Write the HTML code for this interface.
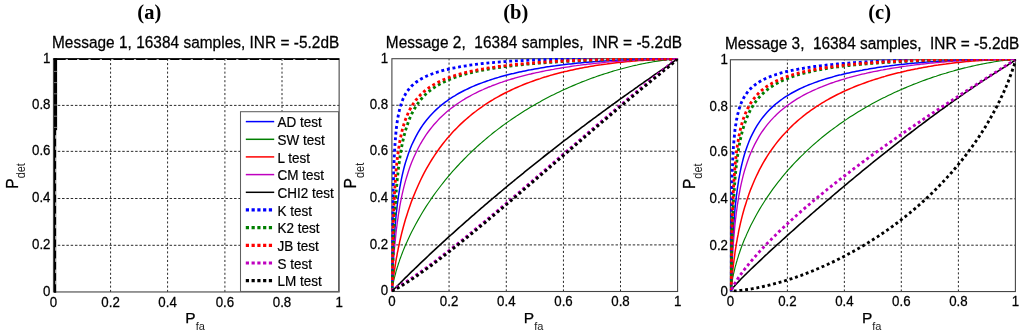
<!DOCTYPE html>
<html><head><meta charset="utf-8"><title>ROC curves</title>
<style>
html,body{margin:0;padding:0;background:#fff;}
svg{display:block}
text{font-family:"Liberation Sans",sans-serif;fill:#000;white-space:pre;stroke:#000;stroke-width:0.25px}
.tk{font-size:13.3px}
.tt{font-size:15.4px}
.lb{font-size:15.5px}
.sb{font-size:11px;stroke-width:0;fill:#222}
.lg{font-size:13.5px;stroke-width:0.2px}
.hd{font-family:"Liberation Serif",serif;font-weight:bold;font-size:20.5px;stroke-width:0}
</style></head><body>
<svg width="1024" height="336" viewBox="0 0 1024 336">
<rect width="1024" height="336" fill="#fff"/>

<g>
<text class="hd" x="149.3" y="18.5" text-anchor="middle">(a)</text>
<text class="tt" transform="translate(52.0 47.9) scale(1 1.03)" textLength="287.3" lengthAdjust="spacing" xml:space="preserve">Message 1, 16384 samples, INR = -5.2dB</text>
<line x1="110.58" y1="291.96" x2="110.58" y2="58.76" stroke="#2b2b2b" stroke-width="1" stroke-dasharray="2.1 2.18"/>
<line x1="167.58" y1="291.96" x2="167.58" y2="58.76" stroke="#2b2b2b" stroke-width="1" stroke-dasharray="2.1 2.18"/>
<line x1="224.90" y1="291.96" x2="224.90" y2="58.76" stroke="#2b2b2b" stroke-width="1" stroke-dasharray="2.1 2.18"/>
<line x1="282.00" y1="291.96" x2="282.00" y2="58.76" stroke="#2b2b2b" stroke-width="1" stroke-dasharray="2.1 2.18"/>
<line x1="53.46" y1="245.30" x2="339.13" y2="245.30" stroke="#2b2b2b" stroke-width="1" stroke-dasharray="2.5 1.8"/>
<line x1="53.46" y1="198.50" x2="339.13" y2="198.50" stroke="#2b2b2b" stroke-width="1" stroke-dasharray="2.5 1.8"/>
<line x1="53.46" y1="151.35" x2="339.13" y2="151.35" stroke="#2b2b2b" stroke-width="1" stroke-dasharray="2.5 1.8"/>
<line x1="53.46" y1="105.40" x2="339.13" y2="105.40" stroke="#2b2b2b" stroke-width="1" stroke-dasharray="2.5 1.8"/>
<rect x="53.46" y="58.76" width="285.67" height="233.20" fill="none" stroke="#454545" stroke-width="1.1"/>
<rect x="54.0" y="58.16" width="3.1" height="72" fill="#000"/>
<rect x="54.0" y="129.76" width="2.2" height="163.00" fill="#000"/>
<line x1="53.46" y1="59.11" x2="339.13" y2="59.11" stroke="#000" stroke-width="1.7"/>
<rect x="54.0" y="70.9" width="3.1" height="1" fill="#777"/>
<rect x="54.0" y="82.1" width="3.1" height="1" fill="#777"/>
<rect x="54.0" y="93.3" width="3.1" height="1" fill="#777"/>
<rect x="54.0" y="104.5" width="3.1" height="1" fill="#777"/>
<rect x="54.0" y="115.7" width="3.1" height="1" fill="#777"/>
<rect x="54.0" y="126.9" width="3.1" height="1" fill="#777"/>
<rect x="55.4" y="135.2" width="0.9" height="3.5" fill="#fff"/>
<rect x="55.4" y="146.4" width="0.9" height="3.5" fill="#fff"/>
<rect x="55.4" y="157.6" width="0.9" height="3.5" fill="#fff"/>
<rect x="55.4" y="168.8" width="0.9" height="3.5" fill="#fff"/>
<rect x="55.4" y="180.0" width="0.9" height="3.5" fill="#fff"/>
<rect x="55.4" y="191.2" width="0.9" height="3.5" fill="#fff"/>
<rect x="55.4" y="202.4" width="0.9" height="3.5" fill="#fff"/>
<rect x="55.4" y="213.6" width="0.9" height="3.5" fill="#fff"/>
<rect x="55.4" y="224.8" width="0.9" height="3.5" fill="#fff"/>
<rect x="55.4" y="236.0" width="0.9" height="3.5" fill="#fff"/>
<rect x="55.4" y="247.2" width="0.9" height="3.5" fill="#fff"/>
<rect x="55.4" y="258.4" width="0.9" height="3.5" fill="#fff"/>
<rect x="55.4" y="269.6" width="0.9" height="3.5" fill="#fff"/>
<rect x="55.4" y="280.8" width="0.9" height="3.5" fill="#fff"/>
<rect x="65.7" y="59.21" width="2.2" height="0.85" fill="#fff" fill-opacity="0.9"/>
<rect x="77.0" y="59.21" width="2.2" height="0.85" fill="#fff" fill-opacity="0.9"/>
<rect x="88.4" y="59.21" width="2.2" height="0.85" fill="#fff" fill-opacity="0.9"/>
<rect x="99.8" y="59.21" width="2.2" height="0.85" fill="#fff" fill-opacity="0.9"/>
<rect x="111.2" y="59.21" width="2.2" height="0.85" fill="#fff" fill-opacity="0.9"/>
<rect x="122.5" y="59.21" width="2.2" height="0.85" fill="#fff" fill-opacity="0.9"/>
<rect x="133.9" y="59.21" width="2.2" height="0.85" fill="#fff" fill-opacity="0.9"/>
<rect x="145.3" y="59.21" width="2.2" height="0.85" fill="#fff" fill-opacity="0.9"/>
<rect x="156.6" y="59.21" width="2.2" height="0.85" fill="#fff" fill-opacity="0.9"/>
<rect x="168.0" y="59.21" width="2.2" height="0.85" fill="#fff" fill-opacity="0.9"/>
<rect x="179.4" y="59.21" width="2.2" height="0.85" fill="#fff" fill-opacity="0.9"/>
<rect x="190.7" y="59.21" width="2.2" height="0.85" fill="#fff" fill-opacity="0.9"/>
<rect x="202.1" y="59.21" width="2.2" height="0.85" fill="#fff" fill-opacity="0.9"/>
<rect x="213.5" y="59.21" width="2.2" height="0.85" fill="#fff" fill-opacity="0.9"/>
<rect x="224.8" y="59.21" width="2.2" height="0.85" fill="#fff" fill-opacity="0.9"/>
<rect x="236.2" y="59.21" width="2.2" height="0.85" fill="#fff" fill-opacity="0.9"/>
<rect x="247.6" y="59.21" width="2.2" height="0.85" fill="#fff" fill-opacity="0.9"/>
<rect x="259.0" y="59.21" width="2.2" height="0.85" fill="#fff" fill-opacity="0.9"/>
<rect x="270.3" y="59.21" width="2.2" height="0.85" fill="#fff" fill-opacity="0.9"/>
<rect x="281.7" y="59.21" width="2.2" height="0.85" fill="#fff" fill-opacity="0.9"/>
<rect x="293.1" y="59.21" width="2.2" height="0.85" fill="#fff" fill-opacity="0.9"/>
<rect x="304.4" y="59.21" width="2.2" height="0.85" fill="#fff" fill-opacity="0.9"/>
<rect x="315.8" y="59.21" width="2.2" height="0.85" fill="#fff" fill-opacity="0.9"/>
<rect x="327.2" y="59.21" width="2.2" height="0.85" fill="#fff" fill-opacity="0.9"/>
<text class="tk" transform="translate(53.5 306.7) scale(1 1.085)" text-anchor="middle">0</text>
<text class="tk" transform="translate(50.5 295.9) scale(1 1.085)" text-anchor="end">0</text>
<text class="tk" transform="translate(110.6 306.7) scale(1 1.085)" text-anchor="middle">0.2</text>
<text class="tk" transform="translate(50.5 249.2) scale(1 1.085)" text-anchor="end">0.2</text>
<text class="tk" transform="translate(167.6 306.7) scale(1 1.085)" text-anchor="middle">0.4</text>
<text class="tk" transform="translate(50.5 202.4) scale(1 1.085)" text-anchor="end">0.4</text>
<text class="tk" transform="translate(224.9 306.7) scale(1 1.085)" text-anchor="middle">0.6</text>
<text class="tk" transform="translate(50.5 155.2) scale(1 1.085)" text-anchor="end">0.6</text>
<text class="tk" transform="translate(282.0 306.7) scale(1 1.085)" text-anchor="middle">0.8</text>
<text class="tk" transform="translate(50.5 109.3) scale(1 1.085)" text-anchor="end">0.8</text>
<text class="tk" transform="translate(339.1 306.7) scale(1 1.085)" text-anchor="middle">1</text>
<text class="tk" transform="translate(50.5 62.7) scale(1 1.085)" text-anchor="end">1</text>
<text class="lb" transform="translate(185.3 323.0)">P<tspan class="sb" dy="7.4">fa</tspan></text>
<text class="lb" transform="translate(17.9 188.7) rotate(-90) scale(1 1.12)">P<tspan class="sb" dy="6.5">det</tspan></text>
<rect x="240.5" y="111.7" width="98.03" height="179.76" fill="#fff" stroke="#606060" stroke-width="1.05"/>
<line x1="245.8" y1="121.6" x2="274.2" y2="121.6" stroke="#0000ff" stroke-width="1.5"/>
<text class="lg" transform="translate(277.6 127.2) scale(1 1.085)">AD test</text>
<line x1="245.8" y1="139.3" x2="274.2" y2="139.3" stroke="#007f00" stroke-width="1.5"/>
<text class="lg" transform="translate(277.6 144.9) scale(1 1.085)">SW test</text>
<line x1="245.8" y1="156.9" x2="274.2" y2="156.9" stroke="#ff0000" stroke-width="1.5"/>
<text class="lg" transform="translate(277.6 162.5) scale(1 1.085)">L test</text>
<line x1="245.8" y1="174.6" x2="274.2" y2="174.6" stroke="#bf00bf" stroke-width="1.5"/>
<text class="lg" transform="translate(277.6 180.2) scale(1 1.085)">CM test</text>
<line x1="245.8" y1="192.3" x2="274.2" y2="192.3" stroke="#000000" stroke-width="1.5"/>
<text class="lg" transform="translate(277.6 197.9) scale(1 1.085)">CHI2 test</text>
<line x1="245.8" y1="209.9" x2="274.2" y2="209.9" stroke="#0000ff" stroke-width="3.2" stroke-dasharray="3.2 2.56"/>
<text class="lg" transform="translate(277.6 215.5) scale(1 1.085)">K test</text>
<line x1="245.8" y1="227.6" x2="274.2" y2="227.6" stroke="#007f00" stroke-width="3.2" stroke-dasharray="3.2 2.56"/>
<text class="lg" transform="translate(277.6 233.2) scale(1 1.085)">K2 test</text>
<line x1="245.8" y1="245.3" x2="274.2" y2="245.3" stroke="#ff0000" stroke-width="3.2" stroke-dasharray="3.2 2.56"/>
<text class="lg" transform="translate(277.6 250.9) scale(1 1.085)">JB test</text>
<line x1="245.8" y1="263.0" x2="274.2" y2="263.0" stroke="#bf00bf" stroke-width="3.2" stroke-dasharray="3.2 2.56"/>
<text class="lg" transform="translate(277.6 268.6) scale(1 1.085)">S test</text>
<line x1="245.8" y1="280.6" x2="274.2" y2="280.6" stroke="#000000" stroke-width="3.2" stroke-dasharray="3.2 2.56"/>
<text class="lg" transform="translate(277.6 286.2) scale(1 1.085)">LM test</text>
</g>
<g>
<text class="hd" x="515.7" y="18.5" text-anchor="middle">(b)</text>
<text class="tt" transform="translate(385.8 47.8) scale(1 1.03)" textLength="296.2" lengthAdjust="spacing" xml:space="preserve">Message 2,  16384 samples,  INR = -5.2dB</text>
<line x1="449.06" y1="291.50" x2="449.06" y2="58.70" stroke="#2b2b2b" stroke-width="1" stroke-dasharray="2.1 2.18"/>
<line x1="506.30" y1="291.50" x2="506.30" y2="58.70" stroke="#2b2b2b" stroke-width="1" stroke-dasharray="2.1 2.18"/>
<line x1="563.45" y1="291.50" x2="563.45" y2="58.70" stroke="#2b2b2b" stroke-width="1" stroke-dasharray="2.1 2.18"/>
<line x1="620.50" y1="291.50" x2="620.50" y2="58.70" stroke="#2b2b2b" stroke-width="1" stroke-dasharray="2.1 2.18"/>
<line x1="391.90" y1="244.90" x2="677.60" y2="244.90" stroke="#2b2b2b" stroke-width="1" stroke-dasharray="2.5 1.8"/>
<line x1="391.90" y1="198.35" x2="677.60" y2="198.35" stroke="#2b2b2b" stroke-width="1" stroke-dasharray="2.5 1.8"/>
<line x1="391.90" y1="151.20" x2="677.60" y2="151.20" stroke="#2b2b2b" stroke-width="1" stroke-dasharray="2.5 1.8"/>
<line x1="391.90" y1="105.24" x2="677.60" y2="105.24" stroke="#2b2b2b" stroke-width="1" stroke-dasharray="2.5 1.8"/>
<rect x="391.90" y="58.70" width="285.70" height="232.80" fill="none" stroke="#454545" stroke-width="1.1"/>
<clipPath id="cp1"><rect x="391.20" y="58.00" width="287.10" height="234.20"/></clipPath>
<g clip-path="url(#cp1)" fill="none">
<path d="M392.0 291.0L392.0 290.6L392.1 290.1L392.1 289.6L392.1 289.2L392.1 288.7L392.1 288.3L392.1 287.6L392.1 287.1L392.2 286.7L392.2 286.1L392.2 285.5L392.2 284.9L392.2 284.2L392.2 283.4L392.3 282.5L392.3 281.6L392.3 280.6L392.4 279.6L392.4 278.4L392.4 277.1L392.5 275.8L392.5 274.4L392.6 272.9L392.6 271.2L392.7 269.5L392.8 267.7L392.8 265.7L392.9 263.7L393.0 261.5L393.1 259.2L393.2 256.9L393.3 254.4L393.5 251.8L393.6 249.0L393.7 246.2L393.9 243.3L394.1 240.2L394.3 237.1L394.5 233.8L394.8 230.5L395.1 227.0L395.4 223.5L395.7 219.8L396.0 216.1L396.4 212.3L396.9 208.4L397.3 204.5L397.9 200.5L398.4 196.4L399.1 192.3L399.7 188.1L400.5 183.9L401.3 179.7L402.2 175.4L403.2 171.1L404.3 166.8L405.5 162.5L406.9 158.2L408.3 153.9L409.9 149.6L411.6 145.3L413.6 141.1L415.7 136.8L418.0 132.6L420.5 128.5L422.4 125.6L424.3 123.0L426.2 120.5L428.1 118.2L430.0 116.0L431.9 113.9L433.8 112.0L435.7 110.1L437.6 108.4L439.5 106.7L441.4 105.1L443.3 103.6L445.2 102.1L447.1 100.8L449.0 99.4L450.9 98.2L452.8 96.9L454.7 95.8L456.6 94.6L458.5 93.5L460.4 92.5L462.3 91.5L464.2 90.5L466.1 89.6L468.0 88.7L469.9 87.8L471.8 86.9L473.7 86.1L475.6 85.3L477.5 84.5L479.4 83.8L481.3 83.1L483.2 82.4L485.1 81.7L487.0 81.0L488.9 80.4L490.8 79.7L492.7 79.1L494.6 78.5L496.5 77.9L498.4 77.4L500.3 76.8L502.2 76.3L504.1 75.8L506.0 75.3L507.9 74.8L509.8 74.3L511.7 73.8L513.6 73.4L515.5 72.9L517.4 72.5L519.3 72.1L521.2 71.7L523.1 71.3L525.0 70.9L526.9 70.5L528.8 70.1L530.7 69.8L532.6 69.4L534.5 69.0L536.4 68.7L538.3 68.4L540.2 68.1L542.1 67.7L544.0 67.4L545.9 67.1L547.8 66.8L549.7 66.6L551.6 66.3L553.5 66.0L555.4 65.8L557.3 65.5L559.2 65.2L561.1 65.0L563.0 64.8L564.9 64.5L566.8 64.3L568.7 64.1L570.6 63.9L572.5 63.7L574.4 63.5L576.3 63.3L578.2 63.1L580.1 62.9L582.0 62.7L583.9 62.5L585.8 62.3L587.7 62.2L589.6 62.0L591.5 61.9L593.4 61.7L595.3 61.6L597.2 61.4L599.1 61.3L601.0 61.1L602.9 61.0L604.8 60.9L606.7 60.8L608.6 60.7L610.5 60.5L612.4 60.4L614.3 60.3L616.2 60.2L618.1 60.1L620.0 60.1L621.9 60.0L623.8 59.9L625.7 59.8L627.6 59.7L629.5 59.7L631.4 59.6L633.3 59.5L635.2 59.5L637.1 59.4L639.0 59.4L640.9 59.3L642.8 59.3L644.7 59.2L646.6 59.2L648.5 59.2L651.0 59.1L653.3 59.1L655.4 59.1L657.4 59.1L659.1 59.0L660.7 59.0L662.1 59.0L663.5 59.0L664.7 59.0L665.8 59.0L666.8 59.0L667.7 59.0L668.5 59.0L669.3 59.0L669.9 59.0L670.6 59.0L671.1 59.0L671.7 59.0L672.1 59.0L672.6 59.0L673.0 59.0L673.6 59.0L674.2 59.0L674.7 59.0L675.1 59.0L675.5 59.0L675.9 59.0L676.3 59.0L676.7 59.0L677.0 59.0" stroke="#0000ff" stroke-width="1.5"/>
<path d="M392.0 291.0L392.0 290.6L392.1 290.3L392.1 289.9L392.2 289.4L392.2 288.9L392.3 288.6L392.3 288.2L392.4 287.7L392.5 287.2L392.6 286.6L392.7 285.9L392.8 285.6L392.8 285.1L392.9 284.7L393.0 284.2L393.1 283.7L393.2 283.2L393.3 282.6L393.5 282.0L393.6 281.3L393.7 280.6L393.9 279.9L394.1 279.1L394.3 278.2L394.5 277.3L394.8 276.3L395.1 275.2L395.4 274.1L395.7 272.9L396.0 271.6L396.4 270.2L396.9 268.8L397.3 267.2L397.9 265.6L398.4 263.8L399.1 261.9L399.7 259.9L400.5 257.8L401.3 255.6L402.2 253.2L403.2 250.6L404.3 248.0L405.5 245.1L406.9 242.1L408.3 238.9L409.9 235.5L411.6 232.0L413.6 228.2L415.7 224.2L418.0 220.1L420.5 215.7L422.4 212.5L424.3 209.4L426.2 206.4L428.1 203.5L430.0 200.7L431.9 197.9L433.8 195.2L435.7 192.5L437.6 190.0L439.5 187.5L441.4 185.0L443.3 182.6L445.2 180.2L447.1 177.9L449.0 175.6L450.9 173.4L452.8 171.2L454.7 169.1L456.6 167.0L458.5 165.0L460.4 162.9L462.3 161.0L464.2 159.0L466.1 157.1L468.0 155.2L469.9 153.4L471.8 151.5L473.7 149.7L475.6 148.0L477.5 146.2L479.4 144.5L481.3 142.9L483.2 141.2L485.1 139.6L487.0 138.0L488.9 136.4L490.8 134.9L492.7 133.3L494.6 131.8L496.5 130.4L498.4 128.9L500.3 127.5L502.2 126.0L504.1 124.6L506.0 123.3L507.9 121.9L509.8 120.6L511.7 119.3L513.6 118.0L515.5 116.7L517.4 115.4L519.3 114.2L521.2 113.0L523.1 111.8L525.0 110.6L526.9 109.4L528.8 108.3L530.7 107.1L532.6 106.0L534.5 104.9L536.4 103.8L538.3 102.7L540.2 101.7L542.1 100.6L544.0 99.6L545.9 98.6L547.8 97.6L549.7 96.6L551.6 95.6L553.5 94.7L555.4 93.7L557.3 92.8L559.2 91.9L561.1 91.0L563.0 90.1L564.9 89.2L566.8 88.4L568.7 87.5L570.6 86.7L572.5 85.9L574.4 85.1L576.3 84.3L578.2 83.5L580.1 82.7L582.0 81.9L583.9 81.2L585.8 80.5L587.7 79.7L589.6 79.0L591.5 78.3L593.4 77.6L595.3 77.0L597.2 76.3L599.1 75.6L601.0 75.0L602.9 74.4L604.8 73.8L606.7 73.2L608.6 72.6L610.5 72.0L612.4 71.4L614.3 70.8L616.2 70.3L618.1 69.7L620.0 69.2L621.9 68.7L623.8 68.2L625.7 67.7L627.6 67.2L629.5 66.7L631.4 66.3L633.3 65.8L635.2 65.4L637.1 65.0L639.0 64.5L640.9 64.1L642.8 63.7L644.7 63.4L646.6 63.0L648.5 62.6L651.0 62.2L653.3 61.8L655.4 61.4L657.4 61.1L659.1 60.9L660.7 60.6L662.1 60.4L663.5 60.3L664.7 60.1L665.8 60.0L666.8 59.9L667.7 59.7L668.5 59.7L669.3 59.6L669.9 59.5L670.6 59.4L671.1 59.4L671.7 59.3L672.1 59.3L672.6 59.3L673.0 59.2L673.6 59.2L674.2 59.1L674.7 59.1L675.1 59.1L675.5 59.1L675.8 59.0L676.2 59.0L676.6 59.0L677.0 59.0L677.0 59.0" stroke="#007f00" stroke-width="1.15"/>
<path d="M392.0 291.0L392.0 290.6L392.1 290.3L392.1 289.9L392.2 289.5L392.2 289.0L392.2 288.5L392.3 288.0L392.4 287.4L392.4 286.7L392.5 286.3L392.5 285.8L392.6 285.4L392.6 284.8L392.7 284.3L392.8 283.7L392.8 283.0L392.9 282.3L393.0 281.5L393.1 280.7L393.2 279.8L393.3 278.8L393.5 277.8L393.6 276.7L393.7 275.5L393.9 274.2L394.1 272.9L394.3 271.4L394.5 269.9L394.8 268.2L395.1 266.4L395.4 264.5L395.7 262.5L396.0 260.4L396.4 258.2L396.9 255.8L397.3 253.2L397.9 250.6L398.4 247.7L399.1 244.8L399.7 241.6L400.5 238.3L401.3 234.9L402.2 231.2L403.2 227.5L404.3 223.5L405.5 219.3L406.9 215.0L408.3 210.6L409.9 205.9L411.6 201.1L413.6 196.1L415.7 191.0L418.0 185.7L420.5 180.2L422.4 176.4L424.3 172.7L426.2 169.2L428.1 165.8L430.0 162.6L431.9 159.5L433.8 156.6L435.7 153.7L437.6 151.0L439.5 148.3L441.4 145.8L443.3 143.3L445.2 140.9L447.1 138.6L449.0 136.4L450.9 134.2L452.8 132.1L454.7 130.1L456.6 128.2L458.5 126.3L460.4 124.4L462.3 122.6L464.2 120.9L466.1 119.2L468.0 117.6L469.9 116.0L471.8 114.4L473.7 112.9L475.6 111.5L477.5 110.0L479.4 108.6L481.3 107.3L483.2 106.0L485.1 104.7L487.0 103.4L488.9 102.2L490.8 101.0L492.7 99.9L494.6 98.7L496.5 97.7L498.4 96.6L500.3 95.5L502.2 94.5L504.1 93.5L506.0 92.5L507.9 91.6L509.8 90.7L511.7 89.8L513.6 88.9L515.5 88.0L517.4 87.2L519.3 86.4L521.2 85.6L523.1 84.8L525.0 84.0L526.9 83.3L528.8 82.6L530.7 81.9L532.6 81.2L534.5 80.5L536.4 79.8L538.3 79.2L540.2 78.6L542.1 77.9L544.0 77.3L545.9 76.8L547.8 76.2L549.7 75.6L551.6 75.1L553.5 74.5L555.4 74.0L557.3 73.5L559.2 73.0L561.1 72.5L563.0 72.1L564.9 71.6L566.8 71.2L568.7 70.7L570.6 70.3L572.5 69.9L574.4 69.5L576.3 69.1L578.2 68.7L580.1 68.3L582.0 67.9L583.9 67.6L585.8 67.2L587.7 66.9L589.6 66.6L591.5 66.2L593.4 65.9L595.3 65.6L597.2 65.3L599.1 65.0L601.0 64.8L602.9 64.5L604.8 64.2L606.7 64.0L608.6 63.7L610.5 63.5L612.4 63.2L614.3 63.0L616.2 62.8L618.1 62.6L620.0 62.4L621.9 62.2L623.8 62.0L625.7 61.8L627.6 61.6L629.5 61.4L631.4 61.3L633.3 61.1L635.2 60.9L637.1 60.8L639.0 60.6L640.9 60.5L642.8 60.4L644.7 60.2L646.6 60.1L648.5 60.0L651.0 59.9L653.3 59.7L655.4 59.6L657.4 59.5L659.1 59.5L660.7 59.4L662.1 59.4L663.5 59.3L664.7 59.3L665.8 59.2L666.8 59.2L667.7 59.2L668.5 59.1L669.3 59.1L669.9 59.1L670.6 59.1L671.1 59.1L671.7 59.1L672.1 59.1L672.6 59.1L673.0 59.0L673.6 59.0L674.2 59.0L674.7 59.0L675.1 59.0L675.5 59.0L675.9 59.0L676.3 59.0L676.7 59.0L677.0 59.0" stroke="#ff0000" stroke-width="1.5"/>
<path d="M392.0 291.0L392.0 290.6L392.1 290.3L392.1 289.8L392.1 289.2L392.1 288.8L392.2 288.1L392.2 287.4L392.2 287.0L392.2 286.5L392.2 286.0L392.3 285.4L392.3 284.8L392.3 284.1L392.4 283.4L392.4 282.6L392.4 281.7L392.5 280.8L392.5 279.8L392.6 278.7L392.6 277.6L392.7 276.3L392.8 275.0L392.8 273.6L392.9 272.1L393.0 270.4L393.1 268.7L393.2 266.9L393.3 265.0L393.5 262.9L393.6 260.8L393.7 258.5L393.9 256.2L394.1 253.7L394.3 251.1L394.5 248.3L394.8 245.5L395.1 242.5L395.4 239.4L395.7 236.2L396.0 232.9L396.4 229.5L396.9 226.0L397.3 222.3L397.9 218.6L398.4 214.7L399.1 210.8L399.7 206.8L400.5 202.6L401.3 198.4L402.2 194.1L403.2 189.8L404.3 185.3L405.5 180.9L406.9 176.3L408.3 171.8L409.9 167.1L411.6 162.5L413.6 157.8L415.7 153.2L418.0 148.5L420.5 143.8L422.4 140.6L424.3 137.6L426.2 134.7L428.1 132.0L430.0 129.5L431.9 127.1L433.8 124.8L435.7 122.7L437.6 120.6L439.5 118.6L441.4 116.8L443.3 115.0L445.2 113.3L447.1 111.6L449.0 110.0L450.9 108.5L452.8 107.1L454.7 105.7L456.6 104.3L458.5 103.0L460.4 101.7L462.3 100.5L464.2 99.4L466.1 98.2L468.0 97.1L469.9 96.1L471.8 95.0L473.7 94.0L475.6 93.1L477.5 92.1L479.4 91.2L481.3 90.3L483.2 89.5L485.1 88.6L487.0 87.8L488.9 87.0L490.8 86.3L492.7 85.5L494.6 84.8L496.5 84.1L498.4 83.4L500.3 82.7L502.2 82.1L504.1 81.4L506.0 80.8L507.9 80.2L509.8 79.6L511.7 79.0L513.6 78.5L515.5 77.9L517.4 77.4L519.3 76.9L521.2 76.4L523.1 75.9L525.0 75.4L526.9 74.9L528.8 74.4L530.7 74.0L532.6 73.5L534.5 73.1L536.4 72.7L538.3 72.3L540.2 71.9L542.1 71.5L544.0 71.1L545.9 70.7L547.8 70.3L549.7 70.0L551.6 69.6L553.5 69.3L555.4 68.9L557.3 68.6L559.2 68.3L561.1 68.0L563.0 67.7L564.9 67.4L566.8 67.1L568.7 66.8L570.6 66.5L572.5 66.2L574.4 65.9L576.3 65.7L578.2 65.4L580.1 65.2L582.0 64.9L583.9 64.7L585.8 64.5L587.7 64.2L589.6 64.0L591.5 63.8L593.4 63.6L595.3 63.4L597.2 63.2L599.1 63.0L601.0 62.8L602.9 62.6L604.8 62.4L606.7 62.2L608.6 62.1L610.5 61.9L612.4 61.7L614.3 61.6L616.2 61.4L618.1 61.3L620.0 61.2L621.9 61.0L623.8 60.9L625.7 60.8L627.6 60.6L629.5 60.5L631.4 60.4L633.3 60.3L635.2 60.2L637.1 60.1L639.0 60.0L640.9 59.9L642.8 59.8L644.7 59.7L646.6 59.6L648.5 59.6L651.0 59.5L653.3 59.4L655.4 59.3L657.4 59.3L659.1 59.2L660.7 59.2L662.1 59.1L663.5 59.1L664.7 59.1L665.8 59.1L666.8 59.1L667.7 59.1L668.5 59.0L669.3 59.0L669.9 59.0L670.6 59.0L671.1 59.0L671.7 59.0L672.1 59.0L672.6 59.0L673.0 59.0L673.6 59.0L674.2 59.0L674.7 59.0L675.1 59.0L675.5 59.0L675.9 59.0L676.3 59.0L676.7 59.0L677.0 59.0" stroke="#bf00bf" stroke-width="1.35"/>
<path d="M392.0 291.0L392.2 290.8L392.4 290.6L392.7 290.4L392.9 290.2L393.1 290.0L393.3 289.8L393.6 289.6L393.9 289.2L394.3 288.9L394.5 288.6L394.8 288.4L395.1 288.1L395.4 287.8L395.7 287.5L396.0 287.1L396.4 286.8L396.9 286.3L397.3 285.9L397.9 285.3L398.4 284.8L399.1 284.1L399.7 283.5L400.5 282.7L401.3 281.9L402.2 281.0L403.2 280.0L404.3 278.9L405.5 277.7L406.9 276.4L408.3 275.0L409.9 273.4L411.6 271.7L413.6 269.9L415.7 267.8L418.0 265.6L420.5 263.2L422.4 261.4L424.3 259.6L426.2 257.8L428.1 256.0L430.0 254.2L431.9 252.4L433.8 250.7L435.7 248.9L437.6 247.1L439.5 245.4L441.4 243.6L443.3 241.9L445.2 240.2L447.1 238.4L449.0 236.7L450.9 235.0L452.8 233.3L454.7 231.6L456.6 229.9L458.5 228.2L460.4 226.5L462.3 224.8L464.2 223.1L466.1 221.4L468.0 219.8L469.9 218.1L471.8 216.4L473.7 214.8L475.6 213.1L477.5 211.5L479.4 209.8L481.3 208.2L483.2 206.6L485.1 204.9L487.0 203.3L488.9 201.7L490.8 200.1L492.7 198.5L494.6 196.9L496.5 195.3L498.4 193.7L500.3 192.1L502.2 190.5L504.1 188.9L506.0 187.3L507.9 185.7L509.8 184.2L511.7 182.6L513.6 181.0L515.5 179.5L517.4 177.9L519.3 176.4L521.2 174.8L523.1 173.3L525.0 171.7L526.9 170.2L528.8 168.7L530.7 167.1L532.6 165.6L534.5 164.1L536.4 162.6L538.3 161.1L540.2 159.6L542.1 158.0L544.0 156.5L545.9 155.0L547.8 153.5L549.7 152.1L551.6 150.6L553.5 149.1L555.4 147.6L557.3 146.1L559.2 144.6L561.1 143.2L563.0 141.7L564.9 140.2L566.8 138.8L568.7 137.3L570.6 135.9L572.5 134.4L574.4 133.0L576.3 131.5L578.2 130.1L580.1 128.7L582.0 127.2L583.9 125.8L585.8 124.4L587.7 122.9L589.6 121.5L591.5 120.1L593.4 118.7L595.3 117.3L597.2 115.9L599.1 114.5L601.0 113.1L602.9 111.7L604.8 110.3L606.7 108.9L608.6 107.5L610.5 106.1L612.4 104.7L614.3 103.4L616.2 102.0L618.1 100.6L620.0 99.2L621.9 97.9L623.8 96.5L625.7 95.2L627.6 93.8L629.5 92.4L631.4 91.1L633.3 89.8L635.2 88.4L637.1 87.1L639.0 85.7L640.9 84.4L642.8 83.1L644.7 81.7L646.6 80.4L648.5 79.1L651.0 77.3L653.3 75.7L655.4 74.2L657.4 72.9L659.1 71.7L660.7 70.6L662.1 69.6L663.5 68.7L664.7 67.9L665.8 67.1L666.8 66.4L667.7 65.8L668.5 65.2L669.3 64.7L669.9 64.2L670.6 63.7L671.1 63.3L671.7 63.0L672.1 62.6L672.6 62.3L673.0 62.1L673.3 61.8L673.6 61.6L673.9 61.4L674.2 61.2L674.5 61.0L674.7 60.8L675.1 60.5L675.4 60.3L675.7 60.1L675.9 59.9L676.2 59.7L676.4 59.5L676.6 59.3L676.9 59.1L677.0 59.0" stroke="#000000" stroke-width="1.6"/>
<path d="M392.0 291.0L392.0 290.6L392.0 290.1L392.0 289.5L392.1 289.1L392.1 288.7L392.1 288.2L392.1 287.6L392.1 286.8L392.1 286.0L392.1 285.0L392.1 283.9L392.1 282.6L392.1 281.2L392.1 279.6L392.1 277.8L392.2 275.8L392.2 273.7L392.2 271.3L392.2 268.7L392.2 265.9L392.2 262.9L392.3 259.7L392.3 256.3L392.3 252.7L392.4 248.9L392.4 245.0L392.4 240.8L392.5 236.6L392.5 232.1L392.6 227.6L392.6 223.0L392.7 218.2L392.8 213.4L392.8 208.5L392.9 203.6L393.0 198.7L393.1 193.8L393.2 188.9L393.3 184.0L393.5 179.1L393.6 174.3L393.7 169.6L393.9 165.0L394.1 160.4L394.3 155.9L394.5 151.6L394.8 147.3L395.1 143.2L395.4 139.2L395.7 135.3L396.0 131.6L396.4 127.9L396.9 124.4L397.3 121.1L397.9 117.8L398.4 114.7L399.1 111.7L399.7 108.9L400.5 106.1L401.3 103.5L402.2 101.0L403.2 98.5L404.3 96.2L405.5 94.0L406.9 91.9L408.3 89.9L409.9 87.9L411.6 86.0L413.6 84.2L415.7 82.5L418.0 80.9L420.5 79.3L422.4 78.2L424.3 77.2L426.2 76.3L428.1 75.5L430.0 74.7L431.9 74.0L433.8 73.3L435.7 72.6L437.6 72.0L439.5 71.5L441.4 70.9L443.3 70.4L445.2 69.9L447.1 69.5L449.0 69.0L450.9 68.6L452.8 68.2L454.7 67.8L456.6 67.4L458.5 67.1L460.4 66.7L462.3 66.4L464.2 66.1L466.1 65.8L468.0 65.5L469.9 65.2L471.8 64.9L473.7 64.7L475.6 64.4L477.5 64.2L479.4 64.0L481.3 63.7L483.2 63.5L485.1 63.3L487.0 63.1L488.9 62.9L490.8 62.7L492.7 62.6L494.6 62.4L496.5 62.2L498.4 62.1L500.3 61.9L502.2 61.8L504.1 61.6L506.0 61.5L507.9 61.3L509.8 61.2L511.7 61.1L513.6 61.0L515.5 60.9L517.4 60.8L519.3 60.7L521.2 60.6L523.1 60.5L525.0 60.4L526.9 60.3L528.8 60.2L530.7 60.1L532.6 60.1L534.5 60.0L536.4 59.9L538.3 59.9L540.2 59.8L542.1 59.7L544.0 59.7L545.9 59.6L547.8 59.6L549.7 59.5L551.6 59.5L553.5 59.5L555.4 59.4L557.3 59.4L559.2 59.3L561.1 59.3L563.0 59.3L564.9 59.3L566.8 59.2L568.7 59.2L570.6 59.2L572.5 59.2L574.4 59.1L576.3 59.1L578.2 59.1L580.1 59.1L582.0 59.1L583.9 59.1L585.8 59.1L587.7 59.1L589.6 59.1L591.5 59.0L593.4 59.0L595.3 59.0L597.2 59.0L599.1 59.0L601.0 59.0L602.9 59.0L604.8 59.0L606.7 59.0L608.6 59.0L610.5 59.0L612.4 59.0L614.3 59.0L616.2 59.0L618.1 59.0L620.0 59.0L621.9 59.0L623.8 59.0L625.7 59.0L627.6 59.0L629.5 59.0L631.4 59.0L633.3 59.0L635.2 59.0L637.1 59.0L639.0 59.0L640.9 59.0L642.8 59.0L644.7 59.0L646.6 59.0L648.5 59.0L651.0 59.0L653.3 59.0L655.4 59.0L657.4 59.0L659.1 59.0L660.7 59.0L662.1 59.0L663.5 59.0L664.7 59.0L665.8 59.0L666.8 59.0L667.7 59.0L668.5 59.0L669.3 59.0L669.9 59.0L670.6 59.0L671.1 59.0L671.7 59.0L672.1 59.0L672.6 59.0L673.0 59.0L673.6 59.0L674.2 59.0L674.7 59.0L675.1 59.0L675.5 59.0L675.9 59.0L676.3 59.0L676.7 59.0L677.0 59.0" stroke="#0000ff" stroke-width="2.85" stroke-dasharray="2.9 2.82" stroke-dashoffset="3.58"/>
<path d="M392.0 291.0L392.1 290.7L392.1 290.2L392.1 289.8L392.1 289.3L392.2 288.9L392.2 288.5L392.2 288.0L392.2 287.5L392.2 286.8L392.2 286.1L392.3 285.3L392.3 284.3L392.3 283.3L392.4 282.1L392.4 280.8L392.4 279.3L392.5 277.7L392.5 276.0L392.6 274.0L392.6 271.9L392.7 269.6L392.8 267.1L392.8 264.5L392.9 261.6L393.0 258.6L393.1 255.4L393.2 251.9L393.3 248.4L393.5 244.6L393.6 240.6L393.7 236.5L393.9 232.3L394.1 227.9L394.3 223.3L394.5 218.7L394.8 213.9L395.1 209.0L395.4 204.1L395.7 199.1L396.0 194.0L396.4 188.9L396.9 183.8L397.3 178.7L397.9 173.6L398.4 168.5L399.1 163.5L399.7 158.5L400.5 153.6L401.3 148.8L402.2 144.1L403.2 139.4L404.3 134.9L405.5 130.5L406.9 126.2L408.3 122.0L409.9 118.0L411.6 114.1L413.6 110.3L415.7 106.7L418.0 103.2L420.5 99.9L422.4 97.7L424.3 95.7L426.2 93.8L428.1 92.1L430.0 90.6L431.9 89.1L433.8 87.8L435.7 86.5L437.6 85.4L439.5 84.3L441.4 83.2L443.3 82.3L445.2 81.4L447.1 80.5L449.0 79.7L450.9 78.9L452.8 78.2L454.7 77.5L456.6 76.8L458.5 76.2L460.4 75.6L462.3 75.0L464.2 74.5L466.1 73.9L468.0 73.4L469.9 72.9L471.8 72.5L473.7 72.0L475.6 71.6L477.5 71.2L479.4 70.8L481.3 70.4L483.2 70.1L485.1 69.7L487.0 69.4L488.9 69.0L490.8 68.7L492.7 68.4L494.6 68.1L496.5 67.8L498.4 67.5L500.3 67.3L502.2 67.0L504.1 66.7L506.0 66.5L507.9 66.3L509.8 66.0L511.7 65.8L513.6 65.6L515.5 65.4L517.4 65.2L519.3 65.0L521.2 64.8L523.1 64.6L525.0 64.4L526.9 64.2L528.8 64.0L530.7 63.9L532.6 63.7L534.5 63.5L536.4 63.4L538.3 63.2L540.2 63.1L542.1 62.9L544.0 62.8L545.9 62.7L547.8 62.5L549.7 62.4L551.6 62.3L553.5 62.1L555.4 62.0L557.3 61.9L559.2 61.8L561.1 61.7L563.0 61.6L564.9 61.5L566.8 61.4L568.7 61.3L570.6 61.2L572.5 61.1L574.4 61.0L576.3 60.9L578.2 60.8L580.1 60.7L582.0 60.6L583.9 60.6L585.8 60.5L587.7 60.4L589.6 60.3L591.5 60.3L593.4 60.2L595.3 60.1L597.2 60.1L599.1 60.0L601.0 60.0L602.9 59.9L604.8 59.8L606.7 59.8L608.6 59.7L610.5 59.7L612.4 59.6L614.3 59.6L616.2 59.5L618.1 59.5L620.0 59.5L621.9 59.4L623.8 59.4L625.7 59.4L627.6 59.3L629.5 59.3L631.4 59.3L633.3 59.2L635.2 59.2L637.1 59.2L639.0 59.2L640.9 59.1L642.8 59.1L644.7 59.1L646.6 59.1L648.5 59.1L651.0 59.1L653.3 59.0L655.4 59.0L657.4 59.0L659.1 59.0L660.7 59.0L662.1 59.0L663.5 59.0L664.7 59.0L665.8 59.0L666.8 59.0L667.7 59.0L668.5 59.0L669.3 59.0L669.9 59.0L670.6 59.0L671.1 59.0L671.7 59.0L672.1 59.0L672.6 59.0L673.0 59.0L673.6 59.0L674.2 59.0L674.7 59.0L675.1 59.0L675.5 59.0L675.9 59.0L676.3 59.0L676.7 59.0L677.0 59.0" stroke="#007f00" stroke-width="2.85" stroke-dasharray="2.9 2.82" stroke-dashoffset="4.30"/>
<path d="M392.0 291.0L392.0 290.6L392.0 290.2L392.0 289.7L392.1 289.2L392.1 288.5L392.1 288.1L392.1 287.7L392.1 287.2L392.1 286.6L392.1 285.9L392.1 285.2L392.1 284.4L392.1 283.5L392.1 282.5L392.2 281.4L392.2 280.2L392.2 278.9L392.2 277.5L392.2 276.0L392.2 274.4L392.3 272.6L392.3 270.7L392.3 268.6L392.4 266.5L392.4 264.1L392.4 261.7L392.5 259.1L392.5 256.4L392.6 253.5L392.6 250.5L392.7 247.4L392.8 244.2L392.8 240.8L392.9 237.3L393.0 233.7L393.1 230.0L393.2 226.2L393.3 222.2L393.5 218.3L393.6 214.2L393.7 210.0L393.9 205.8L394.1 201.6L394.3 197.3L394.5 193.0L394.8 188.7L395.1 184.3L395.4 179.9L395.7 175.6L396.0 171.2L396.4 166.9L396.9 162.6L397.3 158.4L397.9 154.2L398.4 150.0L399.1 146.0L399.7 141.9L400.5 138.0L401.3 134.1L402.2 130.3L403.2 126.6L404.3 123.0L405.5 119.5L406.9 116.0L408.3 112.7L409.9 109.5L411.6 106.3L413.6 103.3L415.7 100.3L418.0 97.5L420.5 94.8L422.4 93.0L424.3 91.3L426.2 89.7L428.1 88.3L430.0 87.0L431.9 85.8L433.8 84.6L435.7 83.5L437.6 82.5L439.5 81.6L441.4 80.7L443.3 79.8L445.2 79.0L447.1 78.3L449.0 77.6L450.9 76.9L452.8 76.2L454.7 75.6L456.6 75.0L458.5 74.5L460.4 73.9L462.3 73.4L464.2 72.9L466.1 72.4L468.0 72.0L469.9 71.5L471.8 71.1L473.7 70.7L475.6 70.3L477.5 69.9L479.4 69.6L481.3 69.2L483.2 68.9L485.1 68.5L487.0 68.2L488.9 67.9L490.8 67.6L492.7 67.3L494.6 67.1L496.5 66.8L498.4 66.5L500.3 66.3L502.2 66.0L504.1 65.8L506.0 65.6L507.9 65.3L509.8 65.1L511.7 64.9L513.6 64.7L515.5 64.5L517.4 64.3L519.3 64.1L521.2 63.9L523.1 63.8L525.0 63.6L526.9 63.4L528.8 63.3L530.7 63.1L532.6 63.0L534.5 62.8L536.4 62.7L538.3 62.5L540.2 62.4L542.1 62.3L544.0 62.1L545.9 62.0L547.8 61.9L549.7 61.8L551.6 61.6L553.5 61.5L555.4 61.4L557.3 61.3L559.2 61.2L561.1 61.1L563.0 61.0L564.9 60.9L566.8 60.8L568.7 60.7L570.6 60.7L572.5 60.6L574.4 60.5L576.3 60.4L578.2 60.4L580.1 60.3L582.0 60.2L583.9 60.1L585.8 60.1L587.7 60.0L589.6 60.0L591.5 59.9L593.4 59.8L595.3 59.8L597.2 59.7L599.1 59.7L601.0 59.6L602.9 59.6L604.8 59.6L606.7 59.5L608.6 59.5L610.5 59.4L612.4 59.4L614.3 59.4L616.2 59.3L618.1 59.3L620.0 59.3L621.9 59.3L623.8 59.2L625.7 59.2L627.6 59.2L629.5 59.2L631.4 59.1L633.3 59.1L635.2 59.1L637.1 59.1L639.0 59.1L640.9 59.1L642.8 59.1L644.7 59.0L646.6 59.0L648.5 59.0L651.0 59.0L653.3 59.0L655.4 59.0L657.4 59.0L659.1 59.0L660.7 59.0L662.1 59.0L663.5 59.0L664.7 59.0L665.8 59.0L666.8 59.0L667.7 59.0L668.5 59.0L669.3 59.0L669.9 59.0L670.6 59.0L671.1 59.0L671.7 59.0L672.1 59.0L672.6 59.0L673.0 59.0L673.6 59.0L674.2 59.0L674.7 59.0L675.1 59.0L675.5 59.0L675.9 59.0L676.3 59.0L676.7 59.0L677.0 59.0" stroke="#ff0000" stroke-width="2.85" stroke-dasharray="2.9 2.82" stroke-dashoffset="0.35"/>
<path d="M391.3 290.2L391.6 290.1L391.9 289.9L392.2 289.8L392.5 289.6L392.8 289.5L393.2 289.3L393.6 289.1L394.1 288.8L394.4 288.7L394.7 288.5L395.0 288.4L395.3 288.2L395.7 288.0L396.2 287.7L396.6 287.5L397.2 287.2L397.7 286.9L398.4 286.5L399.0 286.1L399.8 285.6L400.6 285.1L401.5 284.6L402.5 284.0L403.6 283.3L404.8 282.6L406.2 281.7L407.6 280.8L409.2 279.7L410.9 278.6L412.9 277.3L415.0 275.8L417.3 274.2L419.8 272.5L421.7 271.1L423.6 269.8L425.5 268.4L427.4 267.0L429.3 265.6L431.2 264.2L433.1 262.8L435.0 261.3L436.9 259.9L438.8 258.4L440.7 257.0L442.6 255.5L444.5 254.0L446.4 252.6L448.3 251.1L450.2 249.6L452.1 248.1L454.0 246.6L455.9 245.1L457.8 243.6L459.7 242.0L461.6 240.5L463.5 239.0L465.4 237.4L467.3 235.9L469.2 234.3L471.1 232.8L473.0 231.2L474.9 229.6L476.8 228.1L478.7 226.5L480.6 224.9L482.5 223.4L484.4 221.8L486.3 220.2L488.2 218.6L490.1 217.0L492.0 215.4L493.9 213.8L495.8 212.2L497.7 210.6L499.6 209.0L501.5 207.4L503.4 205.8L505.3 204.2L507.2 202.5L509.1 200.9L511.0 199.3L512.9 197.7L514.8 196.0L516.7 194.4L518.6 192.8L520.5 191.2L522.4 189.5L524.3 187.9L526.2 186.3L528.1 184.6L530.0 183.0L531.9 181.4L533.8 179.7L535.7 178.1L537.6 176.4L539.5 174.8L541.4 173.2L543.3 171.5L545.2 169.9L547.1 168.2L549.0 166.6L550.9 164.9L552.8 163.3L554.7 161.7L556.6 160.0L558.5 158.4L560.4 156.7L562.3 155.1L564.2 153.4L566.1 151.8L568.0 150.2L569.9 148.5L571.8 146.9L573.7 145.2L575.6 143.6L577.5 141.9L579.4 140.3L581.3 138.7L583.2 137.0L585.1 135.4L587.0 133.8L588.9 132.1L590.8 130.5L592.7 128.9L594.6 127.2L596.5 125.6L598.4 124.0L600.3 122.4L602.2 120.7L604.1 119.1L606.0 117.5L607.9 115.9L609.8 114.3L611.7 112.6L613.6 111.0L615.5 109.4L617.4 107.8L619.3 106.2L621.2 104.6L623.1 103.0L625.0 101.4L626.9 99.8L628.8 98.2L630.7 96.6L632.6 95.0L634.5 93.5L636.4 91.9L638.3 90.3L640.2 88.7L642.1 87.1L644.0 85.6L645.9 84.0L647.8 82.4L650.3 80.4L652.6 78.5L654.7 76.8L656.7 75.2L658.4 73.8L660.0 72.5L661.4 71.3L662.8 70.2L664.0 69.2L665.1 68.3L666.1 67.5L667.0 66.8L667.8 66.1L668.6 65.5L669.2 64.9L669.9 64.4L670.4 63.9L671.0 63.4L671.4 63.0L671.9 62.7L672.3 62.3L672.6 62.0L672.9 61.7L673.2 61.5L673.5 61.2L673.8 61.0L674.0 60.8L674.2 60.6L674.4 60.4L674.7 60.1L675.0 59.9L675.2 59.7L675.4 59.5L675.6 59.2L675.8 59.0L676.0 58.8L676.2 58.6L676.3 58.3L676.3 58.2" stroke="#bf00bf" stroke-width="2.85" stroke-dasharray="2.9 2.82" stroke-dashoffset="0.15"/>
<path d="M392.0 291.0L392.3 290.9L392.6 290.7L392.9 290.6L393.2 290.4L393.5 290.3L393.9 290.1L394.3 289.9L394.8 289.6L395.1 289.5L395.4 289.3L395.7 289.2L396.0 289.0L396.4 288.8L396.9 288.5L397.3 288.3L397.9 288.0L398.4 287.7L399.1 287.3L399.7 286.9L400.5 286.4L401.3 285.9L402.2 285.4L403.2 284.8L404.3 284.1L405.5 283.4L406.9 282.5L408.3 281.6L409.9 280.5L411.6 279.4L413.6 278.1L415.7 276.6L418.0 275.0L420.5 273.3L422.4 271.9L424.3 270.6L426.2 269.2L428.1 267.8L430.0 266.4L431.9 265.0L433.8 263.6L435.7 262.1L437.6 260.7L439.5 259.2L441.4 257.8L443.3 256.3L445.2 254.8L447.1 253.4L449.0 251.9L450.9 250.4L452.8 248.9L454.7 247.4L456.6 245.9L458.5 244.4L460.4 242.8L462.3 241.3L464.2 239.8L466.1 238.2L468.0 236.7L469.9 235.1L471.8 233.6L473.7 232.0L475.6 230.4L477.5 228.9L479.4 227.3L481.3 225.7L483.2 224.2L485.1 222.6L487.0 221.0L488.9 219.4L490.8 217.8L492.7 216.2L494.6 214.6L496.5 213.0L498.4 211.4L500.3 209.8L502.2 208.2L504.1 206.6L506.0 205.0L507.9 203.3L509.8 201.7L511.7 200.1L513.6 198.5L515.5 196.8L517.4 195.2L519.3 193.6L521.2 192.0L523.1 190.3L525.0 188.7L526.9 187.1L528.8 185.4L530.7 183.8L532.6 182.2L534.5 180.5L536.4 178.9L538.3 177.2L540.2 175.6L542.1 174.0L544.0 172.3L545.9 170.7L547.8 169.0L549.7 167.4L551.6 165.7L553.5 164.1L555.4 162.5L557.3 160.8L559.2 159.2L561.1 157.5L563.0 155.9L564.9 154.2L566.8 152.6L568.7 151.0L570.6 149.3L572.5 147.7L574.4 146.0L576.3 144.4L578.2 142.7L580.1 141.1L582.0 139.5L583.9 137.8L585.8 136.2L587.7 134.6L589.6 132.9L591.5 131.3L593.4 129.7L595.3 128.0L597.2 126.4L599.1 124.8L601.0 123.2L602.9 121.5L604.8 119.9L606.7 118.3L608.6 116.7L610.5 115.1L612.4 113.4L614.3 111.8L616.2 110.2L618.1 108.6L620.0 107.0L621.9 105.4L623.8 103.8L625.7 102.2L627.6 100.6L629.5 99.0L631.4 97.4L633.3 95.8L635.2 94.3L637.1 92.7L639.0 91.1L640.9 89.5L642.8 87.9L644.7 86.4L646.6 84.8L648.5 83.2L651.0 81.2L653.3 79.3L655.4 77.6L657.4 76.0L659.1 74.6L660.7 73.3L662.1 72.1L663.5 71.0L664.7 70.0L665.8 69.1L666.8 68.3L667.7 67.6L668.5 66.9L669.3 66.3L669.9 65.7L670.6 65.2L671.1 64.7L671.7 64.2L672.1 63.8L672.6 63.5L673.0 63.1L673.3 62.8L673.6 62.5L673.9 62.3L674.2 62.0L674.5 61.8L674.7 61.6L674.9 61.4L675.1 61.2L675.4 60.9L675.7 60.7L675.9 60.5L676.1 60.3L676.3 60.0L676.5 59.8L676.7 59.6L676.9 59.4L677.0 59.1L677.0 59.0" stroke="#000000" stroke-width="2.85" stroke-dasharray="2.9 2.82" stroke-dashoffset="0.15"/>
</g>
<text class="tk" transform="translate(391.9 306.2) scale(1 1.085)" text-anchor="middle">0</text>
<text class="tk" transform="translate(388.2 295.3) scale(1 1.085)" text-anchor="end">0</text>
<text class="tk" transform="translate(449.1 306.2) scale(1 1.085)" text-anchor="middle">0.2</text>
<text class="tk" transform="translate(388.2 248.7) scale(1 1.085)" text-anchor="end">0.2</text>
<text class="tk" transform="translate(506.3 306.2) scale(1 1.085)" text-anchor="middle">0.4</text>
<text class="tk" transform="translate(388.2 202.2) scale(1 1.085)" text-anchor="end">0.4</text>
<text class="tk" transform="translate(563.5 306.2) scale(1 1.085)" text-anchor="middle">0.6</text>
<text class="tk" transform="translate(388.2 155.0) scale(1 1.085)" text-anchor="end">0.6</text>
<text class="tk" transform="translate(620.5 306.2) scale(1 1.085)" text-anchor="middle">0.8</text>
<text class="tk" transform="translate(388.2 109.0) scale(1 1.085)" text-anchor="end">0.8</text>
<text class="tk" transform="translate(677.6 306.2) scale(1 1.085)" text-anchor="middle">1</text>
<text class="tk" transform="translate(388.2 62.5) scale(1 1.085)" text-anchor="end">1</text>
<text class="lb" transform="translate(523.8 323.0)">P<tspan class="sb" dy="7.4">fa</tspan></text>
<text class="lb" transform="translate(356.3 188.4) rotate(-90) scale(1 1.12)">P<tspan class="sb" dy="6.5">det</tspan></text>
</g>
<g>
<text class="hd" x="879.6" y="18.5" text-anchor="middle">(c)</text>
<text class="tt" transform="translate(724.9 48.6) scale(1 1.03)" textLength="294.5" lengthAdjust="spacing" xml:space="preserve">Message 3,  16384 samples,  INR = -5.2dB</text>
<line x1="787.40" y1="291.56" x2="787.40" y2="59.76" stroke="#2b2b2b" stroke-width="1" stroke-dasharray="2.1 2.18"/>
<line x1="844.36" y1="291.56" x2="844.36" y2="59.76" stroke="#2b2b2b" stroke-width="1" stroke-dasharray="2.1 2.18"/>
<line x1="901.30" y1="291.56" x2="901.30" y2="59.76" stroke="#2b2b2b" stroke-width="1" stroke-dasharray="2.1 2.18"/>
<line x1="958.40" y1="291.56" x2="958.40" y2="59.76" stroke="#2b2b2b" stroke-width="1" stroke-dasharray="2.1 2.18"/>
<line x1="730.40" y1="245.20" x2="1015.40" y2="245.20" stroke="#2b2b2b" stroke-width="1" stroke-dasharray="2.5 1.8"/>
<line x1="730.40" y1="198.80" x2="1015.40" y2="198.80" stroke="#2b2b2b" stroke-width="1" stroke-dasharray="2.5 1.8"/>
<line x1="730.40" y1="151.80" x2="1015.40" y2="151.80" stroke="#2b2b2b" stroke-width="1" stroke-dasharray="2.5 1.8"/>
<line x1="730.40" y1="106.10" x2="1015.40" y2="106.10" stroke="#2b2b2b" stroke-width="1" stroke-dasharray="2.5 1.8"/>
<rect x="730.40" y="59.76" width="285.00" height="231.80" fill="none" stroke="#454545" stroke-width="1.1"/>
<clipPath id="cp2"><rect x="729.70" y="59.06" width="286.40" height="233.20"/></clipPath>
<g clip-path="url(#cp2)" fill="none">
<path d="M731.0 291.0L731.0 290.6L731.1 290.3L731.1 289.8L731.1 289.4L731.1 288.8L731.1 288.1L731.1 287.7L731.1 287.2L731.2 286.7L731.2 286.1L731.2 285.5L731.2 284.8L731.2 284.0L731.2 283.1L731.3 282.2L731.3 281.2L731.3 280.1L731.4 278.9L731.4 277.6L731.4 276.2L731.5 274.7L731.5 273.1L731.6 271.4L731.6 269.5L731.7 267.6L731.8 265.5L731.8 263.3L731.9 261.0L732.0 258.6L732.1 256.1L732.2 253.4L732.3 250.6L732.5 247.7L732.6 244.7L732.7 241.6L732.9 238.3L733.1 235.0L733.3 231.5L733.5 228.0L733.8 224.3L734.1 220.6L734.4 216.8L734.7 212.9L735.0 208.9L735.4 204.9L735.9 200.8L736.3 196.7L736.9 192.5L737.4 188.3L738.1 184.1L738.7 179.8L739.5 175.6L740.3 171.3L741.2 167.0L742.2 162.8L743.3 158.5L744.5 154.3L745.9 150.1L747.3 145.9L748.9 141.7L750.6 137.6L752.6 133.6L754.7 129.6L757.0 125.7L759.5 121.8L761.4 119.1L763.3 116.7L765.2 114.4L767.1 112.3L769.0 110.3L770.9 108.4L772.8 106.6L774.7 104.9L776.6 103.3L778.5 101.8L780.4 100.4L782.3 99.0L784.2 97.7L786.1 96.4L788.0 95.3L789.9 94.1L791.8 93.0L793.7 92.0L795.6 91.0L797.5 90.0L799.4 89.0L801.3 88.1L803.2 87.3L805.1 86.4L807.0 85.6L808.9 84.8L810.8 84.1L812.7 83.4L814.6 82.6L816.5 82.0L818.4 81.3L820.3 80.6L822.2 80.0L824.1 79.4L826.0 78.8L827.9 78.2L829.8 77.7L831.7 77.2L833.6 76.6L835.5 76.1L837.4 75.6L839.3 75.1L841.2 74.7L843.1 74.2L845.0 73.7L846.9 73.3L848.8 72.9L850.7 72.5L852.6 72.1L854.5 71.7L856.4 71.3L858.3 70.9L860.2 70.5L862.1 70.2L864.0 69.8L865.9 69.5L867.8 69.2L869.7 68.8L871.6 68.5L873.5 68.2L875.4 67.9L877.3 67.6L879.2 67.3L881.1 67.0L883.0 66.8L884.9 66.5L886.8 66.2L888.7 66.0L890.6 65.7L892.5 65.5L894.4 65.3L896.3 65.0L898.2 64.8L900.1 64.6L902.0 64.4L903.9 64.2L905.8 64.0L907.7 63.8L909.6 63.6L911.5 63.4L913.4 63.2L915.3 63.0L917.2 62.9L919.1 62.7L921.0 62.5L922.9 62.4L924.8 62.2L926.7 62.1L928.6 61.9L930.5 61.8L932.4 61.7L934.3 61.5L936.2 61.4L938.1 61.3L940.0 61.2L941.9 61.0L943.8 60.9L945.7 60.8L947.6 60.7L949.5 60.6L951.4 60.5L953.3 60.4L955.2 60.3L957.1 60.3L959.0 60.2L960.9 60.1L962.8 60.0L964.7 60.0L966.6 59.9L968.5 59.8L970.4 59.8L972.3 59.7L974.2 59.7L976.1 59.6L978.0 59.6L979.9 59.6L981.8 59.5L983.7 59.5L985.6 59.5L987.5 59.4L990.0 59.4L992.3 59.4L994.4 59.4L996.4 59.3L998.1 59.3L999.7 59.3L1001.1 59.3L1002.5 59.3L1003.7 59.3L1004.8 59.3L1005.8 59.3L1006.7 59.3L1007.5 59.3L1008.3 59.3L1008.9 59.3L1009.6 59.3L1010.1 59.3L1010.7 59.3L1011.1 59.3L1011.6 59.3L1012.0 59.3L1012.6 59.3L1013.2 59.3L1013.7 59.3L1014.1 59.3L1014.5 59.3L1014.9 59.3L1015.3 59.3L1015.7 59.3L1016.0 59.3" stroke="#0000ff" stroke-width="1.5"/>
<path d="M731.0 291.0L731.0 290.6L731.0 290.2L731.1 289.9L731.1 289.5L731.1 289.0L731.2 288.7L731.2 288.2L731.2 287.8L731.3 287.3L731.4 286.8L731.4 286.2L731.5 285.8L731.6 285.1L731.6 284.7L731.7 284.2L731.8 283.8L731.8 283.3L731.9 282.7L732.0 282.1L732.1 281.5L732.2 280.9L732.3 280.2L732.5 279.5L732.6 278.7L732.7 277.9L732.9 277.0L733.1 276.1L733.3 275.1L733.5 274.0L733.8 272.9L734.1 271.7L734.4 270.4L734.7 269.1L735.0 267.6L735.4 266.1L735.9 264.5L736.3 262.8L736.9 261.0L737.4 259.1L738.1 257.1L738.7 254.9L739.5 252.7L740.3 250.3L741.2 247.7L742.2 245.1L743.3 242.3L744.5 239.3L745.9 236.2L747.3 232.9L748.9 229.5L750.6 225.8L752.6 222.0L754.7 218.0L757.0 213.8L759.5 209.4L761.4 206.3L763.3 203.2L765.2 200.3L767.1 197.4L769.0 194.6L770.9 191.9L772.8 189.2L774.7 186.6L776.6 184.1L778.5 181.7L780.4 179.3L782.3 176.9L784.2 174.7L786.1 172.4L788.0 170.2L789.9 168.1L791.8 166.0L793.7 163.9L795.6 161.9L797.5 160.0L799.4 158.0L801.3 156.1L803.2 154.3L805.1 152.4L807.0 150.6L808.9 148.9L810.8 147.1L812.7 145.4L814.6 143.8L816.5 142.1L818.4 140.5L820.3 138.9L822.2 137.3L824.1 135.8L826.0 134.3L827.9 132.8L829.8 131.3L831.7 129.9L833.6 128.5L835.5 127.1L837.4 125.7L839.3 124.3L841.2 123.0L843.1 121.7L845.0 120.4L846.9 119.1L848.8 117.8L850.7 116.6L852.6 115.4L854.5 114.2L856.4 113.0L858.3 111.8L860.2 110.7L862.1 109.6L864.0 108.4L865.9 107.3L867.8 106.3L869.7 105.2L871.6 104.1L873.5 103.1L875.4 102.1L877.3 101.1L879.2 100.1L881.1 99.1L883.0 98.1L884.9 97.2L886.8 96.2L888.7 95.3L890.6 94.4L892.5 93.5L894.4 92.6L896.3 91.7L898.2 90.9L900.1 90.0L902.0 89.2L903.9 88.4L905.8 87.6L907.7 86.8L909.6 86.0L911.5 85.2L913.4 84.4L915.3 83.7L917.2 83.0L919.1 82.2L921.0 81.5L922.9 80.8L924.8 80.1L926.7 79.4L928.6 78.7L930.5 78.1L932.4 77.4L934.3 76.8L936.2 76.2L938.1 75.5L940.0 74.9L941.9 74.3L943.8 73.7L945.7 73.2L947.6 72.6L949.5 72.0L951.4 71.5L953.3 71.0L955.2 70.4L957.1 69.9L959.0 69.4L960.9 68.9L962.8 68.4L964.7 67.9L966.6 67.5L968.5 67.0L970.4 66.6L972.3 66.1L974.2 65.7L976.1 65.3L978.0 64.9L979.9 64.5L981.8 64.1L983.7 63.7L985.6 63.4L987.5 63.0L990.0 62.6L992.3 62.2L994.4 61.8L996.4 61.5L998.1 61.3L999.7 61.0L1001.1 60.8L1002.5 60.6L1003.7 60.5L1004.8 60.3L1005.8 60.2L1006.7 60.1L1007.5 60.0L1008.3 59.9L1008.9 59.9L1009.6 59.8L1010.1 59.7L1010.7 59.7L1011.1 59.6L1011.6 59.6L1012.0 59.6L1012.3 59.5L1012.9 59.5L1013.5 59.5L1013.9 59.4L1014.3 59.4L1014.7 59.4L1015.0 59.3L1015.4 59.3L1015.8 59.3L1016.0 59.3" stroke="#007f00" stroke-width="1.15"/>
<path d="M731.0 291.0L731.1 290.6L731.1 290.2L731.1 289.7L731.2 289.4L731.2 289.0L731.2 288.5L731.3 287.9L731.3 287.5L731.3 287.1L731.4 286.7L731.4 286.3L731.4 285.8L731.5 285.2L731.5 284.6L731.6 284.0L731.6 283.3L731.7 282.5L731.8 281.7L731.8 280.8L731.9 279.9L732.0 278.9L732.1 277.8L732.2 276.6L732.3 275.4L732.5 274.0L732.6 272.6L732.7 271.1L732.9 269.4L733.1 267.7L733.3 265.9L733.5 264.0L733.8 261.9L734.1 259.7L734.4 257.5L734.7 255.1L735.0 252.5L735.4 249.9L735.9 247.1L736.3 244.2L736.9 241.1L737.4 238.0L738.1 234.7L738.7 231.2L739.5 227.6L740.3 223.9L741.2 220.1L742.2 216.1L743.3 212.0L744.5 207.7L745.9 203.4L747.3 198.9L748.9 194.3L750.6 189.6L752.6 184.7L754.7 179.8L757.0 174.8L759.5 169.7L761.4 166.1L763.3 162.7L765.2 159.5L767.1 156.4L769.0 153.4L770.9 150.6L772.8 148.0L774.7 145.4L776.6 142.9L778.5 140.5L780.4 138.2L782.3 136.0L784.2 133.9L786.1 131.9L788.0 129.9L789.9 128.0L791.8 126.1L793.7 124.3L795.6 122.6L797.5 120.9L799.4 119.3L801.3 117.7L803.2 116.1L805.1 114.7L807.0 113.2L808.9 111.8L810.8 110.4L812.7 109.1L814.6 107.8L816.5 106.5L818.4 105.3L820.3 104.1L822.2 102.9L824.1 101.8L826.0 100.7L827.9 99.6L829.8 98.5L831.7 97.5L833.6 96.5L835.5 95.5L837.4 94.5L839.3 93.6L841.2 92.7L843.1 91.8L845.0 90.9L846.9 90.0L848.8 89.2L850.7 88.4L852.6 87.6L854.5 86.8L856.4 86.0L858.3 85.3L860.2 84.6L862.1 83.9L864.0 83.2L865.9 82.5L867.8 81.8L869.7 81.1L871.6 80.5L873.5 79.9L875.4 79.3L877.3 78.7L879.2 78.1L881.1 77.5L883.0 76.9L884.9 76.4L886.8 75.8L888.7 75.3L890.6 74.8L892.5 74.3L894.4 73.8L896.3 73.3L898.2 72.8L900.1 72.4L902.0 71.9L903.9 71.5L905.8 71.1L907.7 70.6L909.6 70.2L911.5 69.8L913.4 69.4L915.3 69.0L917.2 68.7L919.1 68.3L921.0 67.9L922.9 67.6L924.8 67.2L926.7 66.9L928.6 66.6L930.5 66.3L932.4 65.9L934.3 65.6L936.2 65.3L938.1 65.1L940.0 64.8L941.9 64.5L943.8 64.2L945.7 64.0L947.6 63.7L949.5 63.5L951.4 63.3L953.3 63.0L955.2 62.8L957.1 62.6L959.0 62.4L960.9 62.2L962.8 62.0L964.7 61.8L966.6 61.6L968.5 61.4L970.4 61.3L972.3 61.1L974.2 61.0L976.1 60.8L978.0 60.7L979.9 60.5L981.8 60.4L983.7 60.3L985.6 60.2L987.5 60.1L990.0 59.9L992.3 59.8L994.4 59.7L996.4 59.7L998.1 59.6L999.7 59.6L1001.1 59.5L1002.5 59.5L1003.7 59.4L1004.8 59.4L1005.8 59.4L1006.7 59.4L1007.5 59.4L1008.3 59.4L1008.9 59.3L1009.6 59.3L1010.1 59.3L1010.7 59.3L1011.1 59.3L1011.6 59.3L1012.0 59.3L1012.6 59.3L1013.2 59.3L1013.7 59.3L1014.1 59.3L1014.5 59.3L1014.9 59.3L1015.3 59.3L1015.7 59.3L1016.0 59.3" stroke="#ff0000" stroke-width="1.5"/>
<path d="M731.0 291.0L731.0 290.6L731.1 290.3L731.1 289.8L731.1 289.4L731.1 288.9L731.1 288.3L731.2 287.9L731.2 287.5L731.2 287.1L731.2 286.6L731.2 286.0L731.2 285.4L731.3 284.7L731.3 284.0L731.3 283.2L731.4 282.3L731.4 281.3L731.4 280.3L731.5 279.2L731.5 278.0L731.6 276.7L731.6 275.3L731.7 273.8L731.8 272.2L731.8 270.5L731.9 268.7L732.0 266.7L732.1 264.7L732.2 262.6L732.3 260.3L732.5 257.9L732.6 255.4L732.7 252.8L732.9 250.1L733.1 247.2L733.3 244.3L733.5 241.2L733.8 238.0L734.1 234.7L734.4 231.3L734.7 227.8L735.0 224.2L735.4 220.5L735.9 216.8L736.3 212.9L736.9 209.0L737.4 204.9L738.1 200.8L738.7 196.7L739.5 192.5L740.3 188.2L741.2 183.9L742.2 179.6L743.3 175.2L744.5 170.8L745.9 166.4L747.3 162.0L748.9 157.6L750.6 153.2L752.6 148.8L754.7 144.4L757.0 140.1L759.5 135.7L761.4 132.7L763.3 130.0L765.2 127.4L767.1 124.9L769.0 122.6L770.9 120.4L772.8 118.4L774.7 116.4L776.6 114.5L778.5 112.8L780.4 111.1L782.3 109.5L784.2 107.9L786.1 106.4L788.0 105.0L789.9 103.7L791.8 102.4L793.7 101.1L795.6 99.9L797.5 98.7L799.4 97.6L801.3 96.5L803.2 95.4L805.1 94.4L807.0 93.4L808.9 92.5L810.8 91.6L812.7 90.7L814.6 89.8L816.5 89.0L818.4 88.1L820.3 87.3L822.2 86.6L824.1 85.8L826.0 85.1L827.9 84.4L829.8 83.7L831.7 83.0L833.6 82.4L835.5 81.7L837.4 81.1L839.3 80.5L841.2 79.9L843.1 79.3L845.0 78.8L846.9 78.2L848.8 77.7L850.7 77.1L852.6 76.6L854.5 76.1L856.4 75.6L858.3 75.2L860.2 74.7L862.1 74.2L864.0 73.8L865.9 73.4L867.8 72.9L869.7 72.5L871.6 72.1L873.5 71.7L875.4 71.3L877.3 71.0L879.2 70.6L881.1 70.2L883.0 69.9L884.9 69.5L886.8 69.2L888.7 68.8L890.6 68.5L892.5 68.2L894.4 67.9L896.3 67.6L898.2 67.3L900.1 67.0L902.0 66.7L903.9 66.4L905.8 66.2L907.7 65.9L909.6 65.7L911.5 65.4L913.4 65.2L915.3 64.9L917.2 64.7L919.1 64.5L921.0 64.2L922.9 64.0L924.8 63.8L926.7 63.6L928.6 63.4L930.5 63.2L932.4 63.0L934.3 62.8L936.2 62.6L938.1 62.5L940.0 62.3L941.9 62.1L943.8 62.0L945.7 61.8L947.6 61.7L949.5 61.5L951.4 61.4L953.3 61.2L955.2 61.1L957.1 61.0L959.0 60.9L960.9 60.8L962.8 60.6L964.7 60.5L966.6 60.4L968.5 60.3L970.4 60.2L972.3 60.2L974.2 60.1L976.1 60.0L978.0 59.9L979.9 59.8L981.8 59.8L983.7 59.7L985.6 59.7L987.5 59.6L990.0 59.5L992.3 59.5L994.4 59.4L996.4 59.4L998.1 59.4L999.7 59.4L1001.1 59.4L1002.5 59.3L1003.7 59.3L1004.8 59.3L1005.8 59.3L1006.7 59.3L1007.5 59.3L1008.3 59.3L1008.9 59.3L1009.6 59.3L1010.1 59.3L1010.7 59.3L1011.1 59.3L1011.6 59.3L1012.0 59.3L1012.6 59.3L1013.2 59.3L1013.7 59.3L1014.1 59.3L1014.5 59.3L1014.9 59.3L1015.3 59.3L1015.7 59.3L1016.0 59.3" stroke="#bf00bf" stroke-width="1.35"/>
<path d="M731.0 291.0L731.1 290.7L731.2 290.4L731.3 290.1L731.5 289.9L731.6 289.6L731.8 289.4L732.0 289.1L732.2 288.8L732.5 288.5L732.7 288.1L732.9 287.9L733.1 287.6L733.3 287.4L733.5 287.1L733.8 286.8L734.1 286.5L734.4 286.2L734.7 285.8L735.0 285.4L735.4 284.9L735.9 284.5L736.3 283.9L736.9 283.4L737.4 282.8L738.1 282.1L738.7 281.4L739.5 280.6L740.3 279.7L741.2 278.8L742.2 277.8L743.3 276.7L744.5 275.5L745.9 274.2L747.3 272.8L748.9 271.2L750.6 269.5L752.6 267.7L754.7 265.7L757.0 263.5L759.5 261.1L761.4 259.3L763.3 257.5L765.2 255.7L767.1 254.0L769.0 252.2L770.9 250.4L772.8 248.7L774.7 247.0L776.6 245.2L778.5 243.5L780.4 241.8L782.3 240.0L784.2 238.3L786.1 236.6L788.0 234.9L789.9 233.2L791.8 231.5L793.7 229.8L795.6 228.1L797.5 226.4L799.4 224.7L801.3 223.0L803.2 221.4L805.1 219.7L807.0 218.0L808.9 216.4L810.8 214.7L812.7 213.0L814.6 211.4L816.5 209.7L818.4 208.1L820.3 206.4L822.2 204.8L824.1 203.2L826.0 201.5L827.9 199.9L829.8 198.3L831.7 196.7L833.6 195.0L835.5 193.4L837.4 191.8L839.3 190.2L841.2 188.6L843.1 187.0L845.0 185.4L846.9 183.8L848.8 182.2L850.7 180.7L852.6 179.1L854.5 177.5L856.4 175.9L858.3 174.4L860.2 172.8L862.1 171.2L864.0 169.7L865.9 168.1L867.8 166.6L869.7 165.0L871.6 163.5L873.5 161.9L875.4 160.4L877.3 158.9L879.2 157.3L881.1 155.8L883.0 154.3L884.9 152.8L886.8 151.3L888.7 149.8L890.6 148.3L892.5 146.8L894.4 145.3L896.3 143.8L898.2 142.3L900.1 140.8L902.0 139.3L903.9 137.9L905.8 136.4L907.7 134.9L909.6 133.5L911.5 132.0L913.4 130.6L915.3 129.1L917.2 127.7L919.1 126.2L921.0 124.8L922.9 123.4L924.8 122.0L926.7 120.5L928.6 119.1L930.5 117.7L932.4 116.3L934.3 114.9L936.2 113.5L938.1 112.1L940.0 110.7L941.9 109.4L943.8 108.0L945.7 106.6L947.6 105.2L949.5 103.9L951.4 102.5L953.3 101.2L955.2 99.8L957.1 98.5L959.0 97.2L960.9 95.8L962.8 94.5L964.7 93.2L966.6 91.9L968.5 90.6L970.4 89.3L972.3 88.0L974.2 86.7L976.1 85.4L978.0 84.2L979.9 82.9L981.8 81.6L983.7 80.4L985.6 79.1L987.5 77.9L990.0 76.3L992.3 74.8L994.4 73.4L996.4 72.2L998.1 71.1L999.7 70.1L1001.1 69.2L1002.5 68.3L1003.7 67.6L1004.8 66.9L1005.8 66.3L1006.7 65.7L1007.5 65.2L1008.3 64.7L1008.9 64.3L1009.6 63.9L1010.1 63.5L1010.7 63.2L1011.1 62.9L1011.6 62.6L1012.0 62.4L1012.3 62.1L1012.6 61.9L1012.9 61.7L1013.2 61.5L1013.5 61.4L1013.7 61.2L1014.1 61.0L1014.3 60.8L1014.5 60.6L1014.8 60.5L1015.0 60.3L1015.2 60.1L1015.5 59.9L1015.7 59.7L1015.9 59.5L1016.0 59.3" stroke="#000000" stroke-width="1.6"/>
<path d="M731.0 291.0L731.0 290.6L731.0 290.2L731.0 289.6L731.0 289.1L731.0 288.5L731.0 288.1L731.0 287.6L731.0 287.1L731.0 286.6L731.0 286.0L731.0 285.3L731.0 284.5L731.0 283.7L731.0 282.8L731.0 281.8L731.0 280.7L731.0 279.5L731.0 278.2L731.1 276.8L731.1 275.3L731.1 273.8L731.1 272.0L731.1 270.2L731.1 268.3L731.1 266.3L731.1 264.1L731.1 261.8L731.1 259.4L731.1 256.9L731.1 254.3L731.2 251.6L731.2 248.8L731.2 245.9L731.2 242.8L731.2 239.7L731.2 236.5L731.3 233.2L731.3 229.9L731.3 226.4L731.4 222.9L731.4 219.3L731.4 215.7L731.5 212.0L731.5 208.3L731.6 204.6L731.6 200.8L731.7 197.0L731.8 193.3L731.8 189.5L731.9 185.7L732.0 181.9L732.1 178.1L732.2 174.3L732.3 170.6L732.5 166.9L732.6 163.3L732.7 159.7L732.9 156.1L733.1 152.6L733.3 149.1L733.5 145.7L733.8 142.4L734.1 139.1L734.4 135.9L734.7 132.8L735.0 129.7L735.4 126.7L735.9 123.8L736.3 120.9L736.9 118.1L737.4 115.4L738.1 112.8L738.7 110.3L739.5 107.8L740.3 105.4L741.2 103.0L742.2 100.8L743.3 98.6L744.5 96.5L745.9 94.4L747.3 92.4L748.9 90.5L750.6 88.6L752.6 86.8L754.7 85.1L757.0 83.4L759.5 81.8L761.4 80.7L763.3 79.7L765.2 78.7L767.1 77.9L769.0 77.1L770.9 76.3L772.8 75.6L774.7 75.0L776.6 74.3L778.5 73.8L780.4 73.2L782.3 72.7L784.2 72.2L786.1 71.7L788.0 71.2L789.9 70.8L791.8 70.4L793.7 70.0L795.6 69.6L797.5 69.3L799.4 68.9L801.3 68.6L803.2 68.3L805.1 67.9L807.0 67.6L808.9 67.4L810.8 67.1L812.7 66.8L814.6 66.5L816.5 66.3L818.4 66.1L820.3 65.8L822.2 65.6L824.1 65.4L826.0 65.2L827.9 65.0L829.8 64.8L831.7 64.6L833.6 64.4L835.5 64.2L837.4 64.0L839.3 63.8L841.2 63.7L843.1 63.5L845.0 63.4L846.9 63.2L848.8 63.1L850.7 62.9L852.6 62.8L854.5 62.6L856.4 62.5L858.3 62.4L860.2 62.3L862.1 62.1L864.0 62.0L865.9 61.9L867.8 61.8L869.7 61.7L871.6 61.6L873.5 61.5L875.4 61.4L877.3 61.3L879.2 61.2L881.1 61.1L883.0 61.0L884.9 61.0L886.8 60.9L888.7 60.8L890.6 60.7L892.5 60.7L894.4 60.6L896.3 60.5L898.2 60.5L900.1 60.4L902.0 60.3L903.9 60.3L905.8 60.2L907.7 60.2L909.6 60.1L911.5 60.1L913.4 60.0L915.3 60.0L917.2 59.9L919.1 59.9L921.0 59.9L922.9 59.8L924.8 59.8L926.7 59.7L928.6 59.7L930.5 59.7L932.4 59.7L934.3 59.6L936.2 59.6L938.1 59.6L940.0 59.5L941.9 59.5L943.8 59.5L945.7 59.5L947.6 59.5L949.5 59.5L951.4 59.4L953.3 59.4L955.2 59.4L957.1 59.4L959.0 59.4L960.9 59.4L962.8 59.4L964.7 59.4L966.6 59.3L968.5 59.3L970.4 59.3L972.3 59.3L974.2 59.3L976.1 59.3L978.0 59.3L979.9 59.3L981.8 59.3L983.7 59.3L985.6 59.3L987.5 59.3L990.0 59.3L992.3 59.3L994.4 59.3L996.4 59.3L998.1 59.3L999.7 59.3L1001.1 59.3L1002.5 59.3L1003.7 59.3L1004.8 59.3L1005.8 59.3L1006.7 59.3L1007.5 59.3L1008.3 59.3L1008.9 59.3L1009.6 59.3L1010.1 59.3L1010.7 59.3L1011.1 59.3L1011.6 59.3L1012.0 59.3L1012.6 59.3L1013.2 59.3L1013.7 59.3L1014.1 59.3L1014.5 59.3L1014.9 59.3L1015.3 59.3L1015.7 59.3L1016.0 59.3" stroke="#0000ff" stroke-width="2.85" stroke-dasharray="2.9 2.82" stroke-dashoffset="0.92"/>
<path d="M731.0 291.0L731.0 290.6L731.0 290.2L731.0 289.7L731.1 289.2L731.1 288.6L731.1 288.2L731.1 287.8L731.1 287.3L731.1 286.8L731.1 286.3L731.1 285.6L731.1 284.9L731.1 284.1L731.1 283.3L731.2 282.3L731.2 281.3L731.2 280.2L731.2 278.9L731.2 277.6L731.2 276.2L731.3 274.6L731.3 272.9L731.3 271.1L731.4 269.2L731.4 267.2L731.4 265.0L731.5 262.7L731.5 260.3L731.6 257.8L731.6 255.1L731.7 252.2L731.8 249.3L731.8 246.2L731.9 243.0L732.0 239.7L732.1 236.2L732.2 232.6L732.3 229.0L732.5 225.2L732.6 221.3L732.7 217.3L732.9 213.3L733.1 209.1L733.3 204.9L733.5 200.7L733.8 196.4L734.1 192.0L734.4 187.6L734.7 183.2L735.0 178.8L735.4 174.4L735.9 169.9L736.3 165.5L736.9 161.1L737.4 156.8L738.1 152.5L738.7 148.2L739.5 144.0L740.3 139.8L741.2 135.7L742.2 131.7L743.3 127.8L744.5 123.9L745.9 120.2L747.3 116.6L748.9 113.0L750.6 109.6L752.6 106.2L754.7 103.0L757.0 99.9L759.5 96.9L761.4 94.9L763.3 93.1L765.2 91.4L767.1 89.8L769.0 88.4L770.9 87.0L772.8 85.8L774.7 84.6L776.6 83.6L778.5 82.5L780.4 81.6L782.3 80.7L784.2 79.8L786.1 79.0L788.0 78.3L789.9 77.5L791.8 76.9L793.7 76.2L795.6 75.6L797.5 75.0L799.4 74.4L801.3 73.9L803.2 73.4L805.1 72.9L807.0 72.4L808.9 72.0L810.8 71.5L812.7 71.1L814.6 70.7L816.5 70.3L818.4 70.0L820.3 69.6L822.2 69.3L824.1 68.9L826.0 68.6L827.9 68.3L829.8 68.0L831.7 67.7L833.6 67.4L835.5 67.2L837.4 66.9L839.3 66.7L841.2 66.4L843.1 66.2L845.0 66.0L846.9 65.8L848.8 65.5L850.7 65.3L852.6 65.1L854.5 64.9L856.4 64.8L858.3 64.6L860.2 64.4L862.1 64.2L864.0 64.1L865.9 63.9L867.8 63.7L869.7 63.6L871.6 63.4L873.5 63.3L875.4 63.2L877.3 63.0L879.2 62.9L881.1 62.8L883.0 62.6L884.9 62.5L886.8 62.4L888.7 62.3L890.6 62.2L892.5 62.1L894.4 62.0L896.3 61.8L898.2 61.8L900.1 61.7L902.0 61.6L903.9 61.5L905.8 61.4L907.7 61.3L909.6 61.2L911.5 61.1L913.4 61.1L915.3 61.0L917.2 60.9L919.1 60.8L921.0 60.8L922.9 60.7L924.8 60.6L926.7 60.6L928.6 60.5L930.5 60.4L932.4 60.4L934.3 60.3L936.2 60.3L938.1 60.2L940.0 60.2L941.9 60.1L943.8 60.1L945.7 60.0L947.6 60.0L949.5 59.9L951.4 59.9L953.3 59.9L955.2 59.8L957.1 59.8L959.0 59.7L960.9 59.7L962.8 59.7L964.7 59.6L966.6 59.6L968.5 59.6L970.4 59.6L972.3 59.5L974.2 59.5L976.1 59.5L978.0 59.5L979.9 59.5L981.8 59.4L983.7 59.4L985.6 59.4L987.5 59.4L990.0 59.4L992.3 59.4L994.4 59.3L996.4 59.3L998.1 59.3L999.7 59.3L1001.1 59.3L1002.5 59.3L1003.7 59.3L1004.8 59.3L1005.8 59.3L1006.7 59.3L1007.5 59.3L1008.3 59.3L1008.9 59.3L1009.6 59.3L1010.1 59.3L1010.7 59.3L1011.1 59.3L1011.6 59.3L1012.0 59.3L1012.6 59.3L1013.2 59.3L1013.7 59.3L1014.1 59.3L1014.5 59.3L1014.9 59.3L1015.3 59.3L1015.7 59.3L1016.0 59.3" stroke="#007f00" stroke-width="2.85" stroke-dasharray="2.9 2.82" stroke-dashoffset="2.85"/>
<path d="M731.0 291.0L731.0 290.6L731.0 290.1L731.0 289.7L731.0 289.2L731.1 288.9L731.1 288.5L731.1 288.1L731.1 287.7L731.1 287.1L731.1 286.6L731.1 285.9L731.1 285.2L731.1 284.3L731.1 283.4L731.1 282.4L731.1 281.3L731.2 280.1L731.2 278.8L731.2 277.4L731.2 275.8L731.2 274.1L731.2 272.3L731.3 270.4L731.3 268.3L731.3 266.1L731.4 263.7L731.4 261.2L731.4 258.6L731.5 255.8L731.5 252.9L731.6 249.9L731.6 246.7L731.7 243.4L731.8 240.0L731.8 236.5L731.9 232.8L732.0 229.1L732.1 225.2L732.2 221.3L732.3 217.2L732.5 213.2L732.6 209.0L732.7 204.8L732.9 200.5L733.1 196.2L733.3 191.9L733.5 187.6L733.8 183.2L734.1 178.9L734.4 174.5L734.7 170.2L735.0 165.9L735.4 161.7L735.9 157.4L736.3 153.3L736.9 149.2L737.4 145.1L738.1 141.2L738.7 137.3L739.5 133.4L740.3 129.7L741.2 126.1L742.2 122.5L743.3 119.0L744.5 115.7L745.9 112.4L747.3 109.2L748.9 106.2L750.6 103.2L752.6 100.3L754.7 97.6L757.0 94.9L759.5 92.3L761.4 90.6L763.3 89.0L765.2 87.6L767.1 86.3L769.0 85.0L770.9 83.9L772.8 82.8L774.7 81.8L776.6 80.9L778.5 80.0L780.4 79.1L782.3 78.4L784.2 77.6L786.1 76.9L788.0 76.2L789.9 75.6L791.8 75.0L793.7 74.4L795.6 73.9L797.5 73.4L799.4 72.9L801.3 72.4L803.2 71.9L805.1 71.5L807.0 71.1L808.9 70.7L810.8 70.3L812.7 69.9L814.6 69.5L816.5 69.2L818.4 68.8L820.3 68.5L822.2 68.2L824.1 67.9L826.0 67.6L827.9 67.3L829.8 67.0L831.7 66.8L833.6 66.5L835.5 66.3L837.4 66.0L839.3 65.8L841.2 65.6L843.1 65.4L845.0 65.1L846.9 64.9L848.8 64.7L850.7 64.6L852.6 64.4L854.5 64.2L856.4 64.0L858.3 63.8L860.2 63.7L862.1 63.5L864.0 63.4L865.9 63.2L867.8 63.1L869.7 62.9L871.6 62.8L873.5 62.6L875.4 62.5L877.3 62.4L879.2 62.3L881.1 62.1L883.0 62.0L884.9 61.9L886.8 61.8L888.7 61.7L890.6 61.6L892.5 61.5L894.4 61.4L896.3 61.3L898.2 61.2L900.1 61.1L902.0 61.0L903.9 60.9L905.8 60.9L907.7 60.8L909.6 60.7L911.5 60.6L913.4 60.6L915.3 60.5L917.2 60.4L919.1 60.4L921.0 60.3L922.9 60.3L924.8 60.2L926.7 60.1L928.6 60.1L930.5 60.0L932.4 60.0L934.3 59.9L936.2 59.9L938.1 59.9L940.0 59.8L941.9 59.8L943.8 59.7L945.7 59.7L947.6 59.7L949.5 59.6L951.4 59.6L953.3 59.6L955.2 59.6L957.1 59.5L959.0 59.5L960.9 59.5L962.8 59.5L964.7 59.5L966.6 59.4L968.5 59.4L970.4 59.4L972.3 59.4L974.2 59.4L976.1 59.4L978.0 59.4L979.9 59.3L981.8 59.3L983.7 59.3L985.6 59.3L987.5 59.3L990.0 59.3L992.3 59.3L994.4 59.3L996.4 59.3L998.1 59.3L999.7 59.3L1001.1 59.3L1002.5 59.3L1003.7 59.3L1004.8 59.3L1005.8 59.3L1006.7 59.3L1007.5 59.3L1008.3 59.3L1008.9 59.3L1009.6 59.3L1010.1 59.3L1010.7 59.3L1011.1 59.3L1011.6 59.3L1012.0 59.3L1012.6 59.3L1013.2 59.3L1013.7 59.3L1014.1 59.3L1014.5 59.3L1014.9 59.3L1015.3 59.3L1015.7 59.3L1016.0 59.3" stroke="#ff0000" stroke-width="2.85" stroke-dasharray="2.9 2.82" stroke-dashoffset="5.05"/>
<path d="M731.0 291.0L731.1 290.7L731.2 290.4L731.4 290.1L731.5 289.8L731.6 289.5L731.8 289.2L731.9 288.9L732.1 288.5L732.3 288.0L732.5 287.8L732.6 287.5L732.7 287.2L732.9 286.9L733.1 286.5L733.3 286.1L733.5 285.7L733.8 285.3L734.1 284.8L734.4 284.3L734.7 283.7L735.0 283.1L735.4 282.5L735.9 281.8L736.3 281.0L736.9 280.2L737.4 279.3L738.1 278.4L738.7 277.4L739.5 276.3L740.3 275.1L741.2 273.8L742.2 272.5L743.3 271.0L744.5 269.4L745.9 267.7L747.3 265.9L748.9 263.9L750.6 261.8L752.6 259.5L754.7 257.1L757.0 254.5L759.5 251.6L761.4 249.6L763.3 247.5L765.2 245.5L767.1 243.5L769.0 241.6L770.9 239.7L772.8 237.7L774.7 235.9L776.6 234.0L778.5 232.1L780.4 230.3L782.3 228.5L784.2 226.7L786.1 224.9L788.0 223.2L789.9 221.4L791.8 219.7L793.7 218.0L795.6 216.3L797.5 214.6L799.4 212.9L801.3 211.2L803.2 209.6L805.1 207.9L807.0 206.3L808.9 204.7L810.8 203.0L812.7 201.4L814.6 199.8L816.5 198.3L818.4 196.7L820.3 195.1L822.2 193.6L824.1 192.0L826.0 190.5L827.9 188.9L829.8 187.4L831.7 185.9L833.6 184.4L835.5 182.9L837.4 181.4L839.3 179.9L841.2 178.4L843.1 176.9L845.0 175.5L846.9 174.0L848.8 172.6L850.7 171.1L852.6 169.7L854.5 168.2L856.4 166.8L858.3 165.4L860.2 164.0L862.1 162.5L864.0 161.1L865.9 159.7L867.8 158.3L869.7 156.9L871.6 155.5L873.5 154.2L875.4 152.8L877.3 151.4L879.2 150.0L881.1 148.7L883.0 147.3L884.9 146.0L886.8 144.6L888.7 143.3L890.6 141.9L892.5 140.6L894.4 139.2L896.3 137.9L898.2 136.6L900.1 135.3L902.0 133.9L903.9 132.6L905.8 131.3L907.7 130.0L909.6 128.7L911.5 127.4L913.4 126.1L915.3 124.8L917.2 123.5L919.1 122.2L921.0 120.9L922.9 119.6L924.8 118.3L926.7 117.1L928.6 115.8L930.5 114.5L932.4 113.2L934.3 112.0L936.2 110.7L938.1 109.5L940.0 108.2L941.9 106.9L943.8 105.7L945.7 104.4L947.6 103.2L949.5 101.9L951.4 100.7L953.3 99.4L955.2 98.2L957.1 97.0L959.0 95.7L960.9 94.5L962.8 93.3L964.7 92.0L966.6 90.8L968.5 89.6L970.4 88.3L972.3 87.1L974.2 85.9L976.1 84.7L978.0 83.4L979.9 82.2L981.8 81.0L983.7 79.8L985.6 78.6L987.5 77.4L990.0 75.7L992.3 74.3L994.4 72.9L996.4 71.7L998.1 70.6L999.7 69.6L1001.1 68.6L1002.5 67.8L1003.7 67.0L1004.8 66.3L1005.8 65.7L1006.7 65.1L1007.5 64.6L1008.3 64.1L1008.9 63.7L1009.6 63.3L1010.1 62.9L1010.7 62.6L1011.1 62.3L1011.6 62.0L1012.0 61.8L1012.3 61.5L1012.6 61.3L1012.9 61.1L1013.2 61.0L1013.5 60.8L1013.9 60.5L1014.3 60.3L1014.5 60.1L1014.8 60.0L1015.1 59.8L1015.4 59.6L1015.7 59.5L1015.9 59.3L1016.0 59.3" stroke="#bf00bf" stroke-width="2.85" stroke-dasharray="2.9 2.82" stroke-dashoffset="4.10"/>
<path d="M731.0 291.0L731.4 291.0L731.8 291.0L732.2 291.0L732.6 291.0L733.1 291.0L733.5 290.9L734.1 290.9L734.7 290.9L735.4 290.8L735.9 290.8L736.3 290.8L736.9 290.7L737.4 290.7L738.1 290.6L738.7 290.6L739.5 290.5L740.3 290.4L741.2 290.3L742.2 290.2L743.3 290.1L744.5 289.9L745.9 289.7L747.3 289.5L748.9 289.3L750.6 289.0L752.6 288.7L754.7 288.3L757.0 287.9L759.5 287.4L761.4 287.0L763.3 286.5L765.2 286.1L767.1 285.7L769.0 285.2L770.9 284.7L772.8 284.2L774.7 283.7L776.6 283.2L778.5 282.7L780.4 282.1L782.3 281.6L784.2 281.0L786.1 280.4L788.0 279.8L789.9 279.2L791.8 278.6L793.7 277.9L795.6 277.3L797.5 276.6L799.4 275.9L801.3 275.3L803.2 274.6L805.1 273.8L807.0 273.1L808.9 272.4L810.8 271.6L812.7 270.9L814.6 270.1L816.5 269.3L818.4 268.5L820.3 267.7L822.2 266.8L824.1 266.0L826.0 265.1L827.9 264.3L829.8 263.4L831.7 262.5L833.6 261.6L835.5 260.7L837.4 259.7L839.3 258.8L841.2 257.8L843.1 256.9L845.0 255.9L846.9 254.9L848.8 253.8L850.7 252.8L852.6 251.8L854.5 250.7L856.4 249.6L858.3 248.6L860.2 247.5L862.1 246.3L864.0 245.2L865.9 244.1L867.8 242.9L869.7 241.7L871.6 240.5L873.5 239.3L875.4 238.1L877.3 236.9L879.2 235.6L881.1 234.3L883.0 233.0L884.9 231.7L886.8 230.4L888.7 229.1L890.6 227.7L892.5 226.3L894.4 224.9L896.3 223.5L898.2 222.1L900.1 220.6L902.0 219.2L903.9 217.7L905.8 216.2L907.7 214.6L909.6 213.1L911.5 211.5L913.4 209.9L915.3 208.3L917.2 206.6L919.1 205.0L921.0 203.3L922.9 201.6L924.8 199.9L926.7 198.1L928.6 196.3L930.5 194.5L932.4 192.7L934.3 190.8L936.2 188.9L938.1 187.0L940.0 185.0L941.9 183.1L943.8 181.1L945.7 179.0L947.6 176.9L949.5 174.8L951.4 172.7L953.3 170.5L955.2 168.3L957.1 166.0L959.0 163.7L960.9 161.4L962.8 159.0L964.7 156.6L966.6 154.1L968.5 151.6L970.4 149.0L972.3 146.4L974.2 143.7L976.1 141.0L978.0 138.2L979.9 135.4L981.8 132.4L983.7 129.4L985.6 126.4L987.5 123.2L990.0 118.9L992.3 114.8L994.4 111.0L996.4 107.3L998.1 103.9L999.7 100.7L1001.1 97.7L1002.5 94.9L1003.7 92.2L1004.8 89.8L1005.8 87.5L1006.7 85.3L1007.5 83.3L1008.3 81.4L1008.9 79.7L1009.6 78.0L1010.1 76.5L1010.7 75.1L1011.1 73.8L1011.6 72.6L1012.0 71.5L1012.3 70.5L1012.6 69.5L1012.9 68.7L1013.2 67.8L1013.5 67.1L1013.7 66.4L1013.9 65.8L1014.1 65.2L1014.3 64.7L1014.4 64.2L1014.5 63.7L1014.7 63.3L1014.8 63.0L1014.9 62.6L1015.0 62.3L1015.1 62.0L1015.2 61.5L1015.4 61.1L1015.5 60.8L1015.6 60.5L1015.7 60.2L1015.8 59.9L1015.9 59.6L1016.0 59.3L1016.0 59.3" stroke="#000000" stroke-width="2.85" stroke-dasharray="2.9 2.82" stroke-dashoffset="2.97"/>
</g>
<text class="tk" transform="translate(730.4 306.3) scale(1 1.085)" text-anchor="middle">0</text>
<text class="tk" transform="translate(728.0 296.0) scale(1 1.085)" text-anchor="end">0</text>
<text class="tk" transform="translate(787.4 306.3) scale(1 1.085)" text-anchor="middle">0.2</text>
<text class="tk" transform="translate(728.0 249.6) scale(1 1.085)" text-anchor="end">0.2</text>
<text class="tk" transform="translate(844.4 306.3) scale(1 1.085)" text-anchor="middle">0.4</text>
<text class="tk" transform="translate(728.0 203.2) scale(1 1.085)" text-anchor="end">0.4</text>
<text class="tk" transform="translate(901.3 306.3) scale(1 1.085)" text-anchor="middle">0.6</text>
<text class="tk" transform="translate(728.0 156.2) scale(1 1.085)" text-anchor="end">0.6</text>
<text class="tk" transform="translate(958.4 306.3) scale(1 1.085)" text-anchor="middle">0.8</text>
<text class="tk" transform="translate(728.0 110.5) scale(1 1.085)" text-anchor="end">0.8</text>
<text class="tk" transform="translate(1015.4 306.3) scale(1 1.085)" text-anchor="middle">1</text>
<text class="tk" transform="translate(728.0 64.2) scale(1 1.085)" text-anchor="end">1</text>
<text class="lb" transform="translate(861.9 323.0)">P<tspan class="sb" dy="7.4">fa</tspan></text>
<text class="lb" transform="translate(694.8 189.0) rotate(-90) scale(1 1.12)">P<tspan class="sb" dy="6.5">det</tspan></text>
</g>
</svg></body></html>
